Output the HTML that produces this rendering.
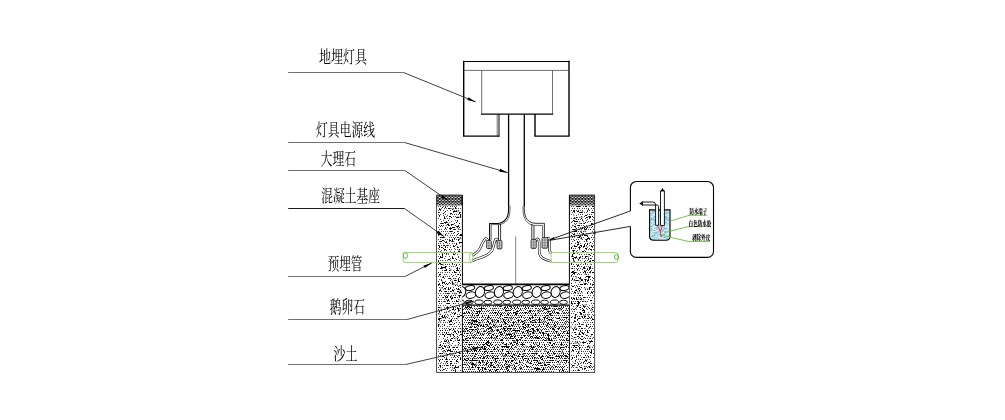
<!DOCTYPE html><html><head><meta charset="utf-8"><title>地埋灯具安装示意图</title>
<style>html,body{margin:0;padding:0;background:#fff;}body{width:1005px;height:420px;overflow:hidden;font-family:"Liberation Serif","Noto Serif CJK SC",serif;}svg{display:block;will-change:transform;transform:translateZ(0)}</style></head><body>
<svg width="1005" height="420" viewBox="0 0 1005 420">
<rect width="1005" height="420" fill="#fff"/>
<g id="walls">
<path d="M438 206.5h1M440 206.5h1M443 206.5h1M445 206.5h1M447 206.5h1M450 206.5h1M452 206.5h1M454 206.5h1M456 206.5h1M439 208.5h1M441 208.5h1M444 208.5h1M446 208.5h1M448 208.5h1M450 208.5h1M453 208.5h1M456 208.5h1M458 208.5h1M460 208.5h1M438 210.5h1M440 210.5h1M443 210.5h1M447 210.5h1M450 210.5h1M454 210.5h1M456 210.5h1M458 210.5h1M439 212.5h1M444 212.5h1M453 212.5h1M460 212.5h1M438 214.5h1M440 214.5h1M443 215.5h1M445 214.5h1M447 215.5h1M450 214.5h1M452 214.5h1M454 214.5h1M456 214.5h1M458 214.5h1M439 216.5h1M444 216.5h1M446 216.5h1M453 216.5h1M455 216.5h1M460 217.5h1M438 218.5h1M440 219.5h1M445 218.5h1M447 218.5h1M449 218.5h1M441 221.5h1M443 220.5h1M446 221.5h1M451 221.5h1M455 220.5h1M457 221.5h1M440 223.5h1M443 223.5h1M445 223.5h1M447 222.5h1M454 223.5h1M456 222.5h1M459 223.5h1M439 225.5h1M441 225.5h1M443 225.5h1M446 225.5h1M449 225.5h1M451 225.5h1M453 224.5h1M455 225.5h1M458 225.5h1M438 227.5h1M440 226.5h1M442 226.5h1M445 227.5h1M447 227.5h1M450 227.5h1M452 227.5h1M454 227.5h1M457 227.5h1M459 227.5h1M439 229.5h1M441 229.5h1M444 229.5h1M446 229.5h1M450 229.5h1M453 229.5h1M455 229.5h1M458 229.5h1M460 229.5h1M438 231.5h1M441 231.5h1M443 231.5h1M445 231.5h1M447 231.5h1M449 231.5h1M452 231.5h1M457 231.5h1M458 231.5h1M439 233.5h1M446 233.5h1M448 233.5h1M451 233.5h1M453 233.5h1M458 233.5h1M438 235.5h1M442 235.5h1M445 235.5h1M447 235.5h1M450 235.5h1M452 235.5h1M454 235.5h1M456 235.5h1M459 235.5h1M441 237.5h1M444 237.5h1M449 237.5h1M451 237.5h1M453 237.5h1M455 237.5h1M458 237.5h1M460 237.5h1M438 239.5h1M440 239.5h1M445 239.5h1M447 239.5h1M449 239.5h1M452 239.5h1M454 239.5h1M456 239.5h1M459 239.5h1M439 241.5h1M444 241.5h1M446 241.5h1M449 241.5h1M451 241.5h1M453 241.5h1M438 243.5h1M440 243.5h1M443 243.5h1M447 243.5h1M449 243.5h1M452 243.5h1M454 243.5h1M456 243.5h1M459 243.5h1M439 245.5h1M441 245.5h1M444 245.5h1M446 245.5h1M448 245.5h1M450 245.5h1M453 245.5h1M455 245.5h1M457 246.5h1M460 246.5h1M438 248.5h1M442 247.5h1M447 247.5h1M450 247.5h1M454 248.5h1M457 247.5h1M458 247.5h1M439 249.5h1M441 250.5h1M444 250.5h1M446 250.5h1M451 249.5h1M455 249.5h1M457 249.5h1M438 251.5h1M440 251.5h1M443 252.5h1M447 252.5h1M450 251.5h1M452 252.5h1M454 251.5h1M459 251.5h1M439 254.5h1M442 253.5h1M444 253.5h1M446 254.5h1M448 254.5h1M453 253.5h1M455 253.5h1M457 254.5h1M438 256.5h1M440 256.5h1M442 256.5h1M445 256.5h1M449 256.5h1M452 256.5h1M458 256.5h1M442 257.5h1M444 258.5h1M450 258.5h1M453 258.5h1M455 258.5h1M458 257.5h1M460 258.5h1M438 260.5h1M440 260.5h1M442 260.5h1M445 260.5h1M447 260.5h1M450 260.5h1M454 260.5h1M459 260.5h1M439 262.5h1M442 262.5h1M443 262.5h1M446 262.5h1M448 262.5h1M451 262.5h1M455 262.5h1M458 262.5h1M460 262.5h1M438 264.5h1M440 264.5h1M442 264.5h1M445 264.5h1M447 264.5h1M449 264.5h1M452 264.5h1M454 264.5h1M456 264.5h1M459 264.5h1M441 266.5h1M446 266.5h1M449 266.5h1M451 266.5h1M453 266.5h1M455 266.5h1M460 266.5h1M438 268.5h1M440 268.5h1M442 268.5h1M445 268.5h1M449 268.5h1M456 268.5h1M459 268.5h1M442 270.5h1M444 270.5h1M446 270.5h1M449 270.5h1M450 270.5h1M453 270.5h1M457 270.5h1M460 270.5h1M438 272.5h1M440 272.5h1M442 272.5h1M445 272.5h1M447 272.5h1M449 272.5h1M452 272.5h1M456 272.5h1M459 272.5h1M439 275.5h1M444 274.5h1M446 274.5h1M451 274.5h1M453 275.5h1M455 274.5h1M457 274.5h1M460 274.5h1M438 276.5h1M440 276.5h1M442 277.5h1M445 276.5h1M447 276.5h1M449 276.5h1M452 276.5h1M456 276.5h1M459 277.5h1M439 279.5h1M441 279.5h1M444 278.5h1M448 278.5h1M451 279.5h1M453 278.5h1M455 278.5h1M458 278.5h1M460 279.5h1M438 281.5h1M442 281.5h1M445 281.5h1M450 280.5h1M452 281.5h1M454 280.5h1M456 280.5h1M459 281.5h1M439 283.5h1M442 282.5h1M444 283.5h1M446 283.5h1M448 283.5h1M450 283.5h1M453 283.5h1M455 282.5h1M457 282.5h1M460 283.5h1M438 285.5h1M440 285.5h1M442 285.5h1M445 284.5h1M452 284.5h1M457 285.5h1M459 285.5h1M439 287.5h1M442 287.5h1M446 287.5h1M448 287.5h1M450 287.5h1M453 287.5h1M458 286.5h1M460 287.5h1M440 289.5h1M443 289.5h1M445 289.5h1M449 289.5h1M452 289.5h1M454 289.5h1M457 289.5h1M459 289.5h1M439 291.5h1M441 291.5h1M444 291.5h1M446 291.5h1M448 291.5h1M451 291.5h1M453 291.5h1M457 291.5h1M460 291.5h1M438 293.5h1M440 293.5h1M443 293.5h1M445 293.5h1M447 293.5h1M449 293.5h1M452 293.5h1M454 293.5h1M456 293.5h1M459 293.5h1M439 295.5h1M441 295.5h1M444 295.5h1M446 295.5h1M448 295.5h1M451 295.5h1M453 295.5h1M455 295.5h1M458 295.5h1M460 295.5h1M438 297.5h1M442 297.5h1M445 297.5h1M447 297.5h1M452 297.5h1M457 297.5h1M459 297.5h1M439 299.5h1M441 299.5h1M444 299.5h1M446 299.5h1M448 299.5h1M451 299.5h1M458 299.5h1M438 301.5h1M441 301.5h1M443 301.5h1M445 301.5h1M447 301.5h1M449 301.5h1M452 301.5h1M454 301.5h1M458 301.5h1M439 303.5h1M441 303.5h1M446 303.5h1M448 303.5h1M453 303.5h1M455 303.5h1M458 303.5h1M438 305.5h1M440 305.5h1M443 305.5h1M445 305.5h1M447 306.5h1M450 305.5h1M452 306.5h1M454 306.5h1M456 305.5h1M459 305.5h1M439 307.5h1M444 307.5h1M446 307.5h1M448 308.5h1M450 307.5h1M453 307.5h1M455 307.5h1M457 307.5h1M460 308.5h1M438 309.5h1M441 310.5h1M443 309.5h1M445 309.5h1M447 309.5h1M450 310.5h1M452 309.5h1M454 310.5h1M459 310.5h1M439 312.5h1M444 312.5h1M446 312.5h1M448 311.5h1M451 312.5h1M453 312.5h1M455 312.5h1M458 311.5h1M460 312.5h1M438 313.5h1M440 314.5h1M445 314.5h1M447 314.5h1M450 314.5h1M452 313.5h1M454 314.5h1M457 314.5h1M459 314.5h1M439 316.5h1M441 316.5h1M444 316.5h1M446 316.5h1M448 315.5h1M451 316.5h1M453 316.5h1M458 316.5h1M438 318.5h1M441 318.5h1M445 318.5h1M447 317.5h1M449 318.5h1M452 318.5h1M454 318.5h1M439 320.5h1M441 320.5h1M443 320.5h1M448 320.5h1M450 320.5h1M453 320.5h1M455 320.5h1M458 320.5h1M438 322.5h1M440 322.5h1M443 322.5h1M445 322.5h1M447 322.5h1M449 322.5h1M452 322.5h1M456 322.5h1M439 324.5h1M442 324.5h1M444 324.5h1M449 324.5h1M451 324.5h1M453 324.5h1M458 324.5h1M460 324.5h1M438 326.5h1M440 326.5h1M442 326.5h1M447 326.5h1M449 326.5h1M452 326.5h1M454 326.5h1M456 326.5h1M459 326.5h1M439 328.5h1M442 328.5h1M444 328.5h1M446 328.5h1M448 328.5h1M451 328.5h1M453 328.5h1M455 328.5h1M458 328.5h1M460 328.5h1M438 330.5h1M440 330.5h1M445 330.5h1M447 330.5h1M449 330.5h1M452 330.5h1M454 330.5h1M457 330.5h1M439 332.5h1M442 332.5h1M444 332.5h1M448 332.5h1M451 333.5h1M453 332.5h1M455 332.5h1M460 332.5h1M438 334.5h1M440 334.5h1M443 334.5h1M445 334.5h1M447 334.5h1M450 335.5h1M452 334.5h1M457 334.5h1M459 335.5h1M439 336.5h1M444 336.5h1M450 336.5h1M453 337.5h1M458 337.5h1M438 339.5h1M443 338.5h1M445 339.5h1M447 339.5h1M450 339.5h1M452 338.5h1M454 338.5h1M457 339.5h1M459 339.5h1M441 341.5h1M444 340.5h1M446 341.5h1M448 340.5h1M451 340.5h1M453 341.5h1M455 340.5h1M457 340.5h1M440 342.5h1M443 343.5h1M445 343.5h1M447 342.5h1M449 342.5h1M452 343.5h1M459 343.5h1M439 345.5h1M442 345.5h1M444 345.5h1M446 345.5h1M448 345.5h1M451 345.5h1M455 345.5h1M458 344.5h1M460 345.5h1M438 347.5h1M440 347.5h1M442 347.5h1M445 347.5h1M447 347.5h1M449 347.5h1M452 347.5h1M456 347.5h1M441 349.5h1M446 349.5h1M448 349.5h1M450 349.5h1M453 349.5h1M455 349.5h1M458 349.5h1M438 351.5h1M442 351.5h1M445 351.5h1M447 351.5h1M452 351.5h1M454 351.5h1M459 351.5h1M439 353.5h1M441 353.5h1M446 353.5h1M449 353.5h1M450 353.5h1M453 353.5h1M455 353.5h1M460 353.5h1M438 355.5h1M440 355.5h1M447 355.5h1M450 355.5h1M452 355.5h1M454 355.5h1M456 355.5h1M458 355.5h1M444 357.5h1M446 357.5h1M451 357.5h1M453 357.5h1M455 357.5h1M458 357.5h1M460 357.5h1M438 359.5h1M440 359.5h1M445 359.5h1M447 359.5h1M449 359.5h1M452 359.5h1M454 359.5h1M439 361.5h1M441 362.5h1M444 361.5h1M446 362.5h1M458 362.5h1M438 363.5h1M440 363.5h1M443 363.5h1M445 363.5h1M450 364.5h1M454 363.5h1M456 363.5h1M439 365.5h1M442 365.5h1M444 365.5h1M446 365.5h1M448 365.5h1M450 365.5h1M453 365.5h1M455 365.5h1M460 365.5h1M438 367.5h1M440 367.5h1M442 367.5h1M445 368.5h1M447 368.5h1M450 367.5h1M452 367.5h1M454 367.5h1M458 367.5h1M439 369.5h1M442 370.5h1M444 369.5h1M446 370.5h1M451 370.5h1M453 370.5h1M455 369.5h1M460 370.5h1" stroke="#000" stroke-width="1" shape-rendering="crispEdges" fill="none" opacity="0.7"/><path d="M453 307.5h1M453 308.5h1M456 244.5h1M446 365.5h2M450 321.5h2M447 296.5h1M450 340.5h2M450 288.5h1M453 303.5h1M443 343.5h1M442 317.5h2M456 265.5h1M448 288.5h1M448 289.5h1M457 268.5h1M457 269.5h1M444 315.5h1M444 316.5h1M438 212.5h1M456 333.5h1M455 285.5h1M451 338.5h2M459 316.5h1M449 216.5h2M449 321.5h1M449 322.5h1M459 223.5h1M441 310.5h1M450 349.5h1M450 350.5h1M442 254.5h1M442 255.5h1M453 308.5h1M457 356.5h1M454 229.5h1M448 299.5h1M448 300.5h1M447 337.5h1M458 281.5h2M454 313.5h2M454 280.5h2M444 335.5h1M444 336.5h1M451 252.5h1M456 360.5h1M456 367.5h2M439 311.5h1M438 284.5h2M455 207.5h1M455 208.5h1M450 231.5h2M459 213.5h1M453 347.5h2M458 342.5h1M442 353.5h1M457 237.5h1M454 336.5h1M441 225.5h1M454 331.5h2M457 316.5h2M439 209.5h2M456 288.5h1M445 296.5h1M439 274.5h2M456 222.5h1M452 365.5h1M439 262.5h1M439 263.5h1M456 217.5h1M457 267.5h1M439 246.5h1M439 247.5h1M443 286.5h1M452 283.5h1M446 332.5h1M446 333.5h1M440 268.5h2M459 355.5h1M447 308.5h1M447 309.5h1M453 211.5h2M445 228.5h1M449 303.5h1M447 307.5h2M441 291.5h1M450 291.5h1M440 237.5h1M449 347.5h1M444 325.5h1M445 317.5h1M459 212.5h1M442 267.5h2M440 256.5h1M442 348.5h1M445 246.5h1M444 309.5h1M456 259.5h1M453 335.5h1M452 239.5h1M452 240.5h1M446 358.5h1M446 359.5h1M456 300.5h1M450 361.5h1M442 237.5h2M440 344.5h1M440 345.5h1M450 213.5h2M456 243.5h1M450 228.5h2M445 288.5h1M441 223.5h2M449 334.5h2M444 222.5h2M440 263.5h1M460 308.5h1M450 324.5h2M458 239.5h1M458 240.5h1M443 213.5h1M459 295.5h1M459 296.5h1M438 324.5h1M450 296.5h1M450 297.5h1M441 252.5h1M446 361.5h2M460 216.5h1M457 247.5h1M447 245.5h1M439 347.5h1M458 251.5h2M445 351.5h1M454 271.5h1M454 272.5h1M459 353.5h1M438 234.5h2M458 279.5h1M458 280.5h1M456 361.5h2M445 234.5h1M448 259.5h2M449 228.5h1M450 363.5h2M446 340.5h1M451 319.5h1M451 320.5h1M460 334.5h2M458 366.5h1M439 258.5h1M454 238.5h1M444 217.5h1M444 218.5h1M455 272.5h1M443 369.5h1M446 269.5h1M446 270.5h1M443 297.5h1M440 257.5h2M442 240.5h2M453 329.5h1M445 207.5h1M452 240.5h1M452 241.5h1M449 282.5h1M460 242.5h2M445 291.5h2M441 346.5h1M443 245.5h2M452 309.5h2M441 280.5h1M453 258.5h1M446 283.5h1M460 285.5h1M441 247.5h1M452 351.5h1M443 348.5h1M438 325.5h1M438 326.5h1M453 227.5h2M448 350.5h1M458 331.5h1M458 332.5h1M453 254.5h2M448 208.5h1M440 370.5h1M457 270.5h2M440 241.5h2M438 307.5h2M447 300.5h1M458 340.5h2M459 249.5h1M447 363.5h1M443 297.5h1M449 240.5h2M449 270.5h1M439 233.5h2M458 309.5h1M458 310.5h1M444 332.5h1M443 282.5h2M458 226.5h1M445 247.5h1M458 308.5h1M439 318.5h1M444 301.5h1M457 336.5h1M447 224.5h2M454 313.5h1M454 314.5h1M440 318.5h1M443 248.5h1M438 319.5h2M459 295.5h2M453 227.5h1M454 323.5h1M455 366.5h1M455 367.5h1M450 361.5h2M439 290.5h2M447 350.5h2M449 329.5h2M442 282.5h1M442 283.5h1M454 368.5h1M444 262.5h2M452 227.5h1M456 301.5h2M451 298.5h1M456 318.5h1M441 264.5h1M444 346.5h2M445 270.5h2M444 341.5h2M460 331.5h1M452 263.5h1M460 234.5h2M456 351.5h1M451 224.5h2M442 334.5h2M460 235.5h2M454 232.5h1M459 306.5h1M444 350.5h1M440 241.5h1M457 220.5h1M439 301.5h1M460 358.5h1M460 359.5h1M452 282.5h1M442 315.5h1M442 316.5h1M440 365.5h1M440 366.5h1M444 350.5h1M449 249.5h1M448 208.5h2M441 267.5h1M454 297.5h2M439 360.5h1M449 346.5h1M457 234.5h1M459 268.5h1M444 320.5h1M456 318.5h1M438 330.5h1M446 253.5h1M447 303.5h2M456 270.5h1M460 274.5h1M460 275.5h1M438 212.5h1M442 330.5h1M439 215.5h1M457 359.5h1M453 246.5h2M452 306.5h1M457 338.5h1M448 341.5h1M442 356.5h2M444 249.5h2M452 290.5h2M450 296.5h1M448 354.5h1M445 211.5h1M457 217.5h2M459 242.5h1M446 222.5h1M446 297.5h2M454 355.5h1M454 356.5h1M460 214.5h1M460 215.5h1M441 257.5h2M458 352.5h2M449 278.5h2M445 242.5h2M447 293.5h2M454 368.5h1M455 309.5h1M460 292.5h2M453 334.5h1M445 266.5h1M445 267.5h1M442 240.5h1M459 322.5h1M450 351.5h2M443 356.5h1M447 284.5h1M456 347.5h2M448 224.5h1M448 225.5h1M456 226.5h2M447 354.5h1M452 297.5h1M452 298.5h1M460 315.5h2M440 330.5h1M443 276.5h1M443 277.5h1M455 211.5h2M458 274.5h1M438 261.5h1M452 257.5h1M452 258.5h1M447 334.5h2M444 267.5h2M442 359.5h1M440 353.5h1M442 207.5h1M455 370.5h1M455 371.5h1M458 288.5h1M458 289.5h1M444 288.5h1M438 330.5h1M459 292.5h1M451 217.5h1M457 291.5h2M457 308.5h1M452 209.5h1M448 350.5h2M448 220.5h1M460 290.5h1M438 245.5h1" stroke="#000" stroke-width="1" shape-rendering="crispEdges" fill="none"/><path d="M449.3 343.6l0.9 1.8M445.1 317.3l-1.6 0.7M459.3 300.1l1.8 1.6M455.6 284.2l2.5 0.2M452.0 296.0l-1.4 1.9M445.5 292.7l1.2 1.4M449.9 222.3l-2.4 1.7M440.8 309.0l0.9 2.8M458.3 308.3l2.1 0.9M442.0 333.3l1.7 1.8M453.9 353.8l-2.6 1.1M454.8 292.5l1.2 2.3M447.3 346.8l2.2 1.8M457.5 269.7l2.1 1.7M438.1 314.0l2.7 0.1M457.8 316.4l0.8 1.6M445.8 354.5l0.9 2.3M456.6 211.0l2.6 0.2M442.9 264.0l1.1 1.8M443.7 350.0l0.0 3.0M455.1 284.1l-2.6 0.5M458.7 228.3l1.0 1.3M437.6 348.8l1.4 1.4M451.0 362.6l1.2 1.0M454.9 345.4l-1.1 1.2M454.7 277.9l0.3 1.7M458.3 318.2l-1.4 1.0M457.8 227.8l1.3 1.8M445.3 329.0l0.2 2.1M446.7 311.1l-1.0 1.8M445.0 352.5l-0.5 1.7M451.4 208.5l2.2 1.0M450.3 320.3l-1.0 1.2M457.3 216.6l2.8 1.0M459.0 292.0l1.8 0.0M449.5 309.7l-0.4 3.0M449.3 343.4l-1.6 0.2M459.0 345.7l-1.8 0.2M439.1 321.2l1.9 0.1M459.0 238.2l2.7 0.4M458.6 249.7l0.8 1.3M447.6 252.2l1.1 1.8M459.6 328.0l1.4 1.6M449.5 268.7l2.3 1.2M457.1 337.6l-2.3 0.8M442.8 288.0l-2.5 0.1M453.7 368.2l-2.1 1.3M439.4 307.6l2.6 0.3M446.5 297.4l-1.2 1.8M452.3 280.6l-0.5 2.1" stroke="#000" stroke-width="0.6" fill="none" opacity="0.85"/>
<path d="M571 206.5h1M573 206.5h1M576 206.5h1M578 206.5h1M580 206.5h1M583 206.5h1M585 206.5h1M589 206.5h1M572 208.5h1M574 208.5h1M577 208.5h1M579 208.5h1M582 208.5h1M584 208.5h1M586 208.5h1M588 208.5h1M591 208.5h1M593 208.5h1M571 210.5h1M573 210.5h1M576 210.5h1M578 210.5h1M580 210.5h1M582 210.5h1M587 210.5h1M589 210.5h1M592 210.5h1M572 212.5h1M574 212.5h1M579 212.5h1M582 212.5h1M584 212.5h1M586 212.5h1M591 212.5h1M593 212.5h1M571 214.5h1M576 215.5h1M578 214.5h1M580 214.5h1M582 214.5h1M587 214.5h1M589 214.5h1M591 214.5h1M574 217.5h1M577 217.5h1M579 217.5h1M581 216.5h1M584 216.5h1M588 216.5h1M590 216.5h1M593 217.5h1M571 218.5h1M573 218.5h1M575 218.5h1M578 219.5h1M580 219.5h1M582 219.5h1M585 218.5h1M587 219.5h1M589 218.5h1M592 219.5h1M572 221.5h1M574 220.5h1M579 221.5h1M583 221.5h1M586 220.5h1M588 221.5h1M590 221.5h1M593 220.5h1M571 222.5h1M574 223.5h1M576 223.5h1M580 223.5h1M583 223.5h1M585 222.5h1M587 222.5h1M592 223.5h1M572 225.5h1M575 224.5h1M577 225.5h1M579 225.5h1M581 225.5h1M583 225.5h1M586 225.5h1M590 225.5h1M593 224.5h1M571 227.5h1M575 227.5h1M578 227.5h1M580 227.5h1M582 227.5h1M585 227.5h1M589 227.5h1M591 227.5h1M572 229.5h1M575 229.5h1M579 229.5h1M581 229.5h1M584 229.5h1M586 229.5h1M588 229.5h1M590 229.5h1M593 229.5h1M573 231.5h1M578 231.5h1M580 231.5h1M583 231.5h1M585 231.5h1M592 231.5h1M572 233.5h1M574 233.5h1M577 233.5h1M579 233.5h1M582 233.5h1M583 233.5h1M586 233.5h1M590 233.5h1M593 233.5h1M571 235.5h1M576 235.5h1M578 235.5h1M580 235.5h1M582 235.5h1M585 235.5h1M587 235.5h1M592 235.5h1M572 237.5h1M574 237.5h1M577 237.5h1M579 237.5h1M581 237.5h1M583 237.5h1M588 237.5h1M591 237.5h1M593 237.5h1M571 239.5h1M573 239.5h1M576 239.5h1M578 239.5h1M582 239.5h1M585 239.5h1M587 239.5h1M589 239.5h1M592 239.5h1M572 241.5h1M577 241.5h1M579 241.5h1M584 241.5h1M586 241.5h1M593 241.5h1M571 243.5h1M575 243.5h1M578 243.5h1M580 243.5h1M585 243.5h1M587 243.5h1M589 243.5h1M592 243.5h1M572 246.5h1M577 245.5h1M579 246.5h1M584 245.5h1M586 245.5h1M589 245.5h1M591 245.5h1M593 245.5h1M573 248.5h1M575 248.5h1M578 247.5h1M580 247.5h1M583 247.5h1M587 247.5h1M589 248.5h1M592 247.5h1M572 250.5h1M577 250.5h1M579 249.5h1M584 250.5h1M586 249.5h1M588 249.5h1M591 250.5h1M593 249.5h1M573 252.5h1M576 251.5h1M578 252.5h1M580 252.5h1M582 251.5h1M585 251.5h1M587 252.5h1M572 254.5h1M577 253.5h1M579 254.5h1M581 254.5h1M584 254.5h1M586 254.5h1M588 254.5h1M591 253.5h1M593 254.5h1M571 256.5h1M573 256.5h1M576 256.5h1M580 256.5h1M582 256.5h1M585 256.5h1M587 256.5h1M592 256.5h1M572 258.5h1M575 258.5h1M577 258.5h1M579 258.5h1M582 258.5h1M584 258.5h1M586 258.5h1M588 258.5h1M591 258.5h1M573 260.5h1M578 260.5h1M580 260.5h1M585 260.5h1M587 260.5h1M590 260.5h1M592 260.5h1M572 262.5h1M575 262.5h1M577 262.5h1M579 262.5h1M581 262.5h1M584 262.5h1M586 262.5h1M588 262.5h1M593 262.5h1M571 264.5h1M573 264.5h1M576 264.5h1M578 264.5h1M580 264.5h1M583 264.5h1M585 264.5h1M587 264.5h1M591 264.5h1M572 266.5h1M577 266.5h1M579 266.5h1M581 266.5h1M584 266.5h1M586 266.5h1M588 266.5h1M590 266.5h1M571 268.5h1M574 268.5h1M576 268.5h1M578 268.5h1M580 268.5h1M583 268.5h1M585 268.5h1M587 268.5h1M590 268.5h1M592 268.5h1M574 270.5h1M577 270.5h1M579 270.5h1M584 270.5h1M586 270.5h1M588 270.5h1M591 270.5h1M573 272.5h1M576 272.5h1M578 273.5h1M580 272.5h1M583 272.5h1M585 273.5h1M587 272.5h1M589 272.5h1M592 272.5h1M572 274.5h1M574 274.5h1M577 274.5h1M579 274.5h1M581 274.5h1M586 274.5h1M588 274.5h1M571 276.5h1M573 276.5h1M575 276.5h1M578 277.5h1M580 277.5h1M585 277.5h1M587 276.5h1M590 276.5h1M592 277.5h1M572 278.5h1M574 279.5h1M579 278.5h1M582 279.5h1M584 279.5h1M586 279.5h1M588 278.5h1M590 279.5h1M593 278.5h1M571 280.5h1M574 280.5h1M575 280.5h1M578 280.5h1M580 281.5h1M585 281.5h1M587 281.5h1M592 280.5h1M575 282.5h1M579 282.5h1M584 283.5h1M586 283.5h1M588 282.5h1M590 283.5h1M593 282.5h1M571 285.5h1M574 285.5h1M576 285.5h1M578 284.5h1M587 284.5h1M590 284.5h1M592 285.5h1M572 286.5h1M575 287.5h1M577 286.5h1M579 286.5h1M581 287.5h1M584 287.5h1M591 287.5h1M593 287.5h1M571 289.5h1M576 289.5h1M578 289.5h1M580 289.5h1M585 289.5h1M587 289.5h1M589 289.5h1M592 289.5h1M572 291.5h1M574 291.5h1M577 291.5h1M579 291.5h1M581 291.5h1M588 291.5h1M591 291.5h1M593 291.5h1M571 293.5h1M573 293.5h1M575 293.5h1M578 293.5h1M580 293.5h1M587 293.5h1M590 293.5h1M592 293.5h1M574 295.5h1M577 295.5h1M579 295.5h1M582 295.5h1M588 295.5h1M590 295.5h1M593 295.5h1M571 297.5h1M573 297.5h1M576 297.5h1M578 297.5h1M580 297.5h1M583 297.5h1M585 297.5h1M587 297.5h1M589 297.5h1M592 297.5h1M572 299.5h1M574 299.5h1M577 299.5h1M581 299.5h1M583 299.5h1M588 299.5h1M573 301.5h1M575 301.5h1M578 301.5h1M580 301.5h1M583 301.5h1M585 301.5h1M587 301.5h1M572 304.5h1M575 303.5h1M577 303.5h1M579 303.5h1M582 304.5h1M586 304.5h1M591 303.5h1M593 303.5h1M571 305.5h1M573 306.5h1M576 305.5h1M578 305.5h1M580 305.5h1M583 305.5h1M585 306.5h1M587 306.5h1M589 305.5h1M592 305.5h1M572 308.5h1M575 308.5h1M576 307.5h1M579 307.5h1M584 307.5h1M586 308.5h1M588 307.5h1M591 308.5h1M593 307.5h1M571 309.5h1M573 309.5h1M576 309.5h1M580 309.5h1M583 309.5h1M587 309.5h1M590 310.5h1M592 309.5h1M572 311.5h1M574 311.5h1M577 312.5h1M579 312.5h1M584 311.5h1M588 312.5h1M591 312.5h1M593 311.5h1M571 313.5h1M573 313.5h1M576 314.5h1M580 314.5h1M583 314.5h1M585 314.5h1M587 314.5h1M589 314.5h1M592 314.5h1M572 316.5h1M575 316.5h1M577 316.5h1M579 316.5h1M581 316.5h1M584 316.5h1M588 316.5h1M591 316.5h1M593 315.5h1M574 318.5h1M575 318.5h1M578 318.5h1M580 318.5h1M583 318.5h1M585 318.5h1M587 318.5h1M590 318.5h1M592 318.5h1M574 320.5h1M577 320.5h1M584 320.5h1M586 320.5h1M588 320.5h1M591 320.5h1M571 322.5h1M573 322.5h1M578 322.5h1M583 322.5h1M585 322.5h1M587 322.5h1M590 322.5h1M592 322.5h1M572 324.5h1M575 324.5h1M577 324.5h1M579 324.5h1M581 324.5h1M583 324.5h1M586 324.5h1M588 324.5h1M590 324.5h1M593 324.5h1M578 326.5h1M587 326.5h1M592 326.5h1M572 328.5h1M574 328.5h1M576 328.5h1M579 328.5h1M581 328.5h1M584 328.5h1M588 328.5h1M591 328.5h1M593 328.5h1M573 330.5h1M578 330.5h1M580 330.5h1M582 330.5h1M585 330.5h1M587 330.5h1M589 330.5h1M572 332.5h1M574 332.5h1M579 332.5h1M581 332.5h1M584 332.5h1M588 332.5h1M593 332.5h1M571 335.5h1M576 334.5h1M578 334.5h1M580 334.5h1M583 334.5h1M585 334.5h1M587 335.5h1M592 334.5h1M572 336.5h1M575 337.5h1M577 336.5h1M579 337.5h1M581 336.5h1M584 337.5h1M588 336.5h1M590 336.5h1M593 337.5h1M571 338.5h1M573 339.5h1M575 339.5h1M578 338.5h1M583 338.5h1M585 338.5h1M587 338.5h1M589 338.5h1M592 338.5h1M572 341.5h1M575 341.5h1M577 341.5h1M579 341.5h1M583 341.5h1M586 341.5h1M588 340.5h1M591 340.5h1M571 343.5h1M573 343.5h1M578 343.5h1M580 342.5h1M583 343.5h1M587 343.5h1M590 342.5h1M572 345.5h1M575 345.5h1M577 345.5h1M579 345.5h1M581 345.5h1M583 345.5h1M588 345.5h1M593 345.5h1M571 347.5h1M573 347.5h1M575 347.5h1M578 346.5h1M580 347.5h1M582 347.5h1M585 347.5h1M587 347.5h1M589 347.5h1M592 347.5h1M572 349.5h1M575 349.5h1M577 349.5h1M579 349.5h1M581 349.5h1M584 349.5h1M586 349.5h1M588 349.5h1M591 349.5h1M593 349.5h1M571 351.5h1M573 351.5h1M576 351.5h1M578 351.5h1M583 351.5h1M585 351.5h1M587 351.5h1M589 351.5h1M577 353.5h1M579 353.5h1M581 353.5h1M584 353.5h1M586 353.5h1M588 353.5h1M591 353.5h1M593 353.5h1M571 355.5h1M573 355.5h1M576 355.5h1M578 355.5h1M580 355.5h1M585 355.5h1M587 355.5h1M590 355.5h1M574 357.5h1M576 357.5h1M581 357.5h1M584 357.5h1M586 357.5h1M588 357.5h1M590 357.5h1M593 357.5h1M571 359.5h1M576 359.5h1M578 359.5h1M580 359.5h1M582 359.5h1M585 359.5h1M587 359.5h1M589 359.5h1M575 361.5h1M577 362.5h1M579 361.5h1M581 362.5h1M584 361.5h1M586 361.5h1M588 362.5h1M590 361.5h1M571 364.5h1M574 363.5h1M575 363.5h1M578 363.5h1M580 363.5h1M583 363.5h1M585 363.5h1M587 363.5h1M590 363.5h1M572 366.5h1M574 365.5h1M577 365.5h1M579 366.5h1M581 365.5h1M584 366.5h1M586 366.5h1M588 366.5h1M591 366.5h1M593 366.5h1M571 367.5h1M573 367.5h1M576 367.5h1M580 367.5h1M582 368.5h1M585 368.5h1M587 367.5h1M590 367.5h1M592 367.5h1M575 370.5h1M577 370.5h1M579 370.5h1M582 369.5h1M584 369.5h1M586 370.5h1M588 370.5h1M591 369.5h1M593 369.5h1" stroke="#000" stroke-width="1" shape-rendering="crispEdges" fill="none" opacity="0.7"/><path d="M574 337.5h1M576 356.5h1M574 246.5h2M572 278.5h1M581 218.5h1M577 336.5h1M578 259.5h1M592 322.5h1M585 206.5h2M592 307.5h1M584 228.5h1M580 299.5h1M579 290.5h1M583 312.5h2M584 223.5h1M573 220.5h1M579 366.5h1M587 331.5h1M574 332.5h2M585 280.5h1M589 327.5h1M573 329.5h1M592 212.5h2M589 217.5h2M573 234.5h2M578 219.5h1M579 295.5h1M582 310.5h2M579 247.5h1M579 248.5h1M585 251.5h1M573 345.5h2M578 369.5h1M578 370.5h1M592 272.5h2M574 303.5h1M578 206.5h1M582 227.5h1M582 228.5h1M589 287.5h2M588 356.5h1M591 350.5h1M580 338.5h1M581 238.5h1M587 349.5h2M578 364.5h1M587 238.5h1M584 316.5h2M576 217.5h1M579 236.5h2M585 301.5h1M578 336.5h1M588 280.5h1M572 271.5h1M592 260.5h2M582 284.5h1M573 298.5h2M577 265.5h1M577 266.5h1M584 271.5h2M571 275.5h1M581 298.5h1M584 361.5h1M592 284.5h2M578 293.5h1M574 253.5h1M582 256.5h1M586 217.5h2M581 313.5h1M581 314.5h1M585 279.5h1M581 245.5h1M581 246.5h1M576 246.5h1M572 268.5h1M576 219.5h1M577 244.5h2M582 336.5h1M579 318.5h1M590 271.5h1M590 272.5h1M583 305.5h1M571 301.5h1M581 291.5h1M572 365.5h2M577 211.5h2M589 362.5h1M574 257.5h2M578 265.5h1M589 288.5h1M589 289.5h1M590 229.5h1M574 266.5h1M580 312.5h1M580 313.5h1M571 264.5h1M583 267.5h2M584 268.5h1M578 302.5h2M587 346.5h2M579 326.5h2M586 325.5h1M586 326.5h1M572 303.5h1M590 365.5h1M590 326.5h1M583 246.5h2M574 272.5h2M585 229.5h1M577 206.5h1M573 253.5h1M584 311.5h1M580 295.5h1M576 231.5h1M586 235.5h1M588 259.5h1M583 297.5h2M590 363.5h2M579 278.5h2M590 300.5h2M582 342.5h2M575 290.5h2M574 292.5h1M571 298.5h1M571 247.5h1M571 248.5h1M577 342.5h1M583 272.5h1M585 248.5h2M582 220.5h1M578 288.5h2M592 216.5h1M586 256.5h1M573 250.5h2M579 334.5h1M590 249.5h2M581 280.5h2M575 329.5h2M574 240.5h1M580 257.5h1M590 352.5h2M592 319.5h2M581 351.5h1M582 332.5h1M576 221.5h2M574 226.5h2M572 357.5h1M572 358.5h1M587 243.5h1M573 251.5h1M573 252.5h1M587 211.5h1M578 318.5h1M585 342.5h1M576 257.5h1M591 292.5h2M575 292.5h1M573 211.5h2M574 218.5h1M580 277.5h1M573 258.5h1M573 259.5h1M585 360.5h2M579 347.5h1M579 348.5h1M572 279.5h1M573 347.5h1M590 242.5h1M588 324.5h1M585 256.5h1M585 257.5h1M578 277.5h1M587 269.5h1M580 307.5h1M574 261.5h1M582 324.5h1M587 330.5h1M582 308.5h1M582 333.5h2M592 309.5h1M575 314.5h1M575 315.5h1M586 335.5h1M577 269.5h1M574 273.5h1M591 237.5h1M583 357.5h2M577 286.5h1M571 283.5h1M575 347.5h2M589 366.5h1M589 367.5h1M576 280.5h2M574 317.5h2M584 317.5h1M574 245.5h1M587 244.5h1M591 317.5h1M575 231.5h1M589 254.5h1M589 343.5h1M591 334.5h1M574 210.5h1M574 211.5h1M577 319.5h1M591 351.5h1M584 261.5h1M584 262.5h1M580 367.5h2M578 352.5h1M582 301.5h1M573 370.5h1M580 245.5h1M574 221.5h2M572 256.5h1M573 271.5h1M573 273.5h1M579 206.5h1M585 263.5h1M584 235.5h2M571 235.5h1M574 321.5h2M571 263.5h1M572 286.5h2M584 342.5h1M580 312.5h1M587 318.5h2M589 341.5h2M586 276.5h1M584 310.5h1M572 349.5h1M589 268.5h1M589 269.5h1M587 236.5h1M582 316.5h1M582 317.5h1M571 272.5h2M591 246.5h2M586 239.5h1M586 240.5h1M584 368.5h2M577 242.5h2M592 206.5h2M571 303.5h1M581 339.5h2M581 223.5h1M592 226.5h1M580 284.5h2M576 235.5h1M591 223.5h1M591 224.5h1M580 212.5h2M582 251.5h2M591 334.5h2M574 236.5h1M580 330.5h1M580 331.5h1M583 233.5h1M578 303.5h1M578 304.5h1M581 328.5h2M583 306.5h1M588 277.5h2M589 216.5h2M579 257.5h1M583 362.5h1M575 360.5h1M584 244.5h1M584 245.5h1M578 237.5h2M584 226.5h1M585 283.5h1M585 284.5h1M585 222.5h1M574 309.5h1M571 302.5h1M586 228.5h1M575 334.5h1M573 229.5h2M590 338.5h1M580 312.5h1M589 267.5h1M572 350.5h2M574 345.5h1M574 346.5h1M584 284.5h2M574 231.5h1M589 261.5h2M579 333.5h1M589 317.5h1M585 355.5h1M588 276.5h2M587 227.5h1M587 332.5h1M582 235.5h1M587 280.5h2M582 269.5h1M587 276.5h2M590 267.5h1M590 268.5h1M585 271.5h1M585 272.5h1M590 258.5h1M588 238.5h2M588 209.5h1M576 298.5h1M590 255.5h1M576 230.5h1M574 253.5h1M591 341.5h2M572 254.5h1M572 255.5h1M583 306.5h2M577 301.5h2M588 279.5h1M589 308.5h1M577 305.5h1M577 306.5h1M587 292.5h1M587 293.5h1M585 215.5h2M578 225.5h2M576 298.5h1M576 299.5h1M579 323.5h1M580 359.5h1M576 345.5h2M576 228.5h1M589 341.5h1M581 232.5h1M575 347.5h1M581 279.5h1M579 258.5h1M571 317.5h1" stroke="#000" stroke-width="1" shape-rendering="crispEdges" fill="none"/><path d="M580.7 278.1l-1.1 2.5M572.5 360.8l0.6 1.8M583.5 281.6l0.6 2.4M572.4 279.4l1.2 1.0M583.1 211.2l-2.3 1.3M583.5 308.9l-0.8 2.7M581.1 230.0l0.9 2.7M580.6 262.6l1.4 0.8M592.1 334.7l-1.0 1.7M580.0 237.7l1.5 2.0M571.4 288.0l-0.0 1.6M576.0 327.7l-1.9 0.3M576.5 276.4l-0.2 2.2M580.7 298.8l-2.5 0.6M574.3 224.6l-1.7 1.8M586.0 240.3l2.0 1.5M574.6 260.6l-1.5 1.7M571.4 343.1l-1.3 0.9M580.3 217.0l2.8 0.3M586.8 288.5l1.8 0.5M573.5 214.2l0.6 1.9M584.3 274.1l2.8 0.5M570.6 212.1l-1.7 1.3M575.3 367.5l2.8 0.2M589.3 346.6l0.1 2.2M578.7 222.2l0.7 1.8M591.6 308.8l0.8 2.8M581.4 292.3l1.6 0.5M585.0 287.5l0.5 2.2M570.9 325.8l0.3 2.6M589.1 255.8l-0.7 2.0M583.6 315.4l2.2 0.0M590.2 263.5l0.2 1.6M584.3 304.8l1.9 0.3M575.6 341.2l0.9 2.7M588.1 314.0l0.6 2.8M584.4 301.0l2.3 1.2M577.1 353.7l1.9 0.3M585.1 230.2l-1.6 2.0M587.3 246.0l-1.7 0.5M576.2 326.0l-2.3 1.3M586.3 366.3l-1.8 1.6M573.5 337.8l-1.4 0.9M580.1 351.1l-1.7 0.3M580.3 344.2l-1.9 0.2M578.6 292.4l-1.3 0.9M573.1 343.2l2.8 0.0M585.5 328.3l0.8 1.4M578.8 358.3l-0.2 1.5M589.8 345.7l0.3 2.6" stroke="#000" stroke-width="0.6" fill="none" opacity="0.85"/>
<path d="M463 306.5h1M465 306.5h1M467 306.5h1M469 306.5h1M471 306.5h1M477 306.5h1M479 306.5h1M481 306.5h1M483 306.5h1M485 306.5h1M487 306.5h1M489 306.5h1M493 306.5h1M495 306.5h1M497 306.5h1M499 306.5h1M501 306.5h1M505 306.5h1M507 306.5h1M509 306.5h1M511 306.5h1M513 306.5h1M515 306.5h1M517 306.5h1M519 306.5h1M521 306.5h1M523 306.5h1M525 306.5h1M527 306.5h1M529 306.5h1M531 306.5h1M533 306.5h1M535 306.5h1M537 306.5h1M539 306.5h1M541 306.5h1M543 306.5h1M545 306.5h1M547 306.5h1M549 306.5h1M551 306.5h1M553 306.5h1M555 306.5h1M557 306.5h1M559 306.5h1M561 306.5h1M563 306.5h1M565 306.5h1M567 306.5h1M464 308.5h1M466 308.5h1M468 308.5h1M470 308.5h1M472 308.5h1M474 308.5h1M476 308.5h1M478 308.5h1M480 308.5h1M482 308.5h1M484 308.5h1M486 308.5h1M490 308.5h1M492 308.5h1M494 308.5h1M496 308.5h1M498 308.5h1M500 308.5h1M502 308.5h1M504 308.5h1M506 308.5h1M508 308.5h1M510 308.5h1M512 308.5h1M514 308.5h1M516 308.5h1M518 308.5h1M520 308.5h1M522 308.5h1M524 308.5h1M526 308.5h1M528 308.5h1M530 308.5h1M532 308.5h1M536 308.5h1M538 308.5h1M540 308.5h1M542 308.5h1M544 308.5h1M546 308.5h1M548 308.5h1M550 308.5h1M552 308.5h1M554 308.5h1M556 308.5h1M558 308.5h1M560 308.5h1M562 308.5h1M566 308.5h1M568 308.5h1M463 309.5h1M465 309.5h1M467 309.5h1M469 309.5h1M471 310.5h1M473 310.5h1M475 309.5h1M477 309.5h1M479 310.5h1M481 310.5h1M485 309.5h1M487 310.5h1M489 310.5h1M491 310.5h1M493 310.5h1M495 310.5h1M497 310.5h1M499 310.5h1M501 310.5h1M503 309.5h1M505 309.5h1M507 310.5h1M509 310.5h1M511 309.5h1M513 310.5h1M515 309.5h1M517 310.5h1M519 310.5h1M521 310.5h1M523 310.5h1M525 309.5h1M527 310.5h1M529 310.5h1M531 310.5h1M533 310.5h1M535 310.5h1M537 310.5h1M539 309.5h1M541 310.5h1M543 310.5h1M547 309.5h1M551 310.5h1M553 310.5h1M555 309.5h1M557 309.5h1M559 310.5h1M561 309.5h1M563 310.5h1M565 310.5h1M567 310.5h1M464 312.5h1M466 311.5h1M468 311.5h1M472 312.5h1M474 311.5h1M476 311.5h1M478 311.5h1M480 311.5h1M482 311.5h1M484 311.5h1M486 311.5h1M488 311.5h1M490 312.5h1M492 312.5h1M494 312.5h1M496 312.5h1M498 311.5h1M500 312.5h1M502 312.5h1M504 312.5h1M508 312.5h1M510 312.5h1M514 312.5h1M516 311.5h1M518 311.5h1M520 312.5h1M522 312.5h1M524 312.5h1M526 312.5h1M528 312.5h1M530 312.5h1M532 311.5h1M534 311.5h1M538 312.5h1M540 311.5h1M542 311.5h1M544 312.5h1M546 312.5h1M548 312.5h1M550 311.5h1M552 311.5h1M554 311.5h1M558 312.5h1M562 311.5h1M564 312.5h1M566 312.5h1M568 312.5h1M463 313.5h1M465 313.5h1M467 313.5h1M469 313.5h1M471 313.5h1M473 313.5h1M475 313.5h1M477 313.5h1M479 313.5h1M481 313.5h1M483 313.5h1M485 313.5h1M489 313.5h1M491 313.5h1M493 313.5h1M495 313.5h1M497 313.5h1M499 313.5h1M501 313.5h1M503 313.5h1M505 313.5h1M507 313.5h1M509 313.5h1M511 313.5h1M513 313.5h1M515 313.5h1M517 313.5h1M519 313.5h1M521 313.5h1M523 313.5h1M525 313.5h1M527 313.5h1M529 313.5h1M531 313.5h1M533 313.5h1M535 313.5h1M537 313.5h1M539 313.5h1M541 313.5h1M543 313.5h1M547 313.5h1M549 313.5h1M551 313.5h1M553 313.5h1M555 313.5h1M557 313.5h1M559 313.5h1M561 313.5h1M563 313.5h1M565 313.5h1M567 313.5h1M464 315.5h1M466 315.5h1M468 315.5h1M470 315.5h1M472 315.5h1M474 315.5h1M476 315.5h1M478 315.5h1M482 315.5h1M484 315.5h1M486 315.5h1M488 315.5h1M490 315.5h1M492 315.5h1M494 315.5h1M496 315.5h1M498 315.5h1M500 315.5h1M502 315.5h1M504 315.5h1M506 315.5h1M508 315.5h1M510 315.5h1M512 315.5h1M514 315.5h1M516 315.5h1M518 315.5h1M520 315.5h1M522 315.5h1M524 315.5h1M528 315.5h1M530 315.5h1M532 315.5h1M534 315.5h1M536 315.5h1M538 315.5h1M540 315.5h1M542 315.5h1M544 315.5h1M548 315.5h1M550 315.5h1M552 315.5h1M554 315.5h1M556 315.5h1M558 315.5h1M560 315.5h1M562 315.5h1M564 315.5h1M566 315.5h1M568 315.5h1M463 317.5h1M465 317.5h1M467 317.5h1M469 317.5h1M471 317.5h1M473 317.5h1M475 317.5h1M477 317.5h1M479 317.5h1M481 317.5h1M483 317.5h1M485 317.5h1M487 317.5h1M489 317.5h1M491 317.5h1M493 317.5h1M495 317.5h1M497 317.5h1M499 317.5h1M505 317.5h1M507 317.5h1M509 317.5h1M511 317.5h1M513 317.5h1M515 317.5h1M517 317.5h1M519 317.5h1M521 317.5h1M523 317.5h1M525 317.5h1M527 317.5h1M529 317.5h1M531 317.5h1M533 317.5h1M535 317.5h1M537 317.5h1M539 317.5h1M545 317.5h1M547 317.5h1M549 317.5h1M551 317.5h1M553 317.5h1M555 317.5h1M559 317.5h1M561 317.5h1M563 317.5h1M565 317.5h1M567 317.5h1M464 319.5h1M466 318.5h1M468 319.5h1M470 319.5h1M472 319.5h1M474 318.5h1M476 319.5h1M478 319.5h1M482 319.5h1M484 319.5h1M486 319.5h1M488 319.5h1M490 318.5h1M492 319.5h1M494 319.5h1M496 319.5h1M498 318.5h1M500 318.5h1M502 318.5h1M504 319.5h1M506 319.5h1M508 319.5h1M510 318.5h1M512 318.5h1M514 319.5h1M516 318.5h1M518 319.5h1M520 319.5h1M524 318.5h1M526 319.5h1M528 319.5h1M530 319.5h1M532 318.5h1M536 319.5h1M538 319.5h1M540 319.5h1M542 319.5h1M544 318.5h1M546 318.5h1M548 319.5h1M550 319.5h1M552 318.5h1M556 318.5h1M558 318.5h1M560 319.5h1M562 319.5h1M564 319.5h1M566 318.5h1M568 319.5h1M465 320.5h1M467 320.5h1M469 320.5h1M471 320.5h1M473 321.5h1M475 320.5h1M479 320.5h1M481 320.5h1M483 320.5h1M487 320.5h1M491 320.5h1M495 320.5h1M497 320.5h1M501 321.5h1M503 321.5h1M505 320.5h1M507 321.5h1M509 321.5h1M511 320.5h1M513 321.5h1M515 321.5h1M517 320.5h1M519 320.5h1M521 320.5h1M523 321.5h1M525 320.5h1M527 320.5h1M529 320.5h1M531 321.5h1M533 320.5h1M535 321.5h1M537 320.5h1M539 320.5h1M541 320.5h1M543 321.5h1M545 321.5h1M547 320.5h1M549 320.5h1M551 320.5h1M553 320.5h1M555 321.5h1M557 321.5h1M559 320.5h1M561 320.5h1M563 320.5h1M565 321.5h1M567 321.5h1M464 322.5h1M466 322.5h1M468 322.5h1M470 322.5h1M472 322.5h1M474 322.5h1M476 322.5h1M478 322.5h1M480 322.5h1M482 322.5h1M484 322.5h1M486 322.5h1M488 322.5h1M490 322.5h1M492 322.5h1M494 322.5h1M496 322.5h1M498 322.5h1M500 322.5h1M502 322.5h1M504 322.5h1M508 322.5h1M510 322.5h1M512 322.5h1M514 322.5h1M516 322.5h1M518 322.5h1M520 322.5h1M522 322.5h1M524 322.5h1M526 322.5h1M528 322.5h1M530 322.5h1M532 322.5h1M534 322.5h1M536 322.5h1M538 322.5h1M540 322.5h1M542 322.5h1M544 322.5h1M546 322.5h1M548 322.5h1M550 322.5h1M552 322.5h1M554 322.5h1M556 322.5h1M558 322.5h1M560 322.5h1M562 322.5h1M564 322.5h1M566 322.5h1M568 322.5h1M463 324.5h1M465 324.5h1M467 324.5h1M469 324.5h1M471 324.5h1M473 324.5h1M475 324.5h1M477 324.5h1M479 324.5h1M481 324.5h1M483 324.5h1M485 324.5h1M487 324.5h1M489 324.5h1M491 324.5h1M493 324.5h1M495 324.5h1M499 324.5h1M501 324.5h1M503 324.5h1M505 324.5h1M507 324.5h1M511 324.5h1M513 324.5h1M515 324.5h1M517 324.5h1M519 324.5h1M523 324.5h1M525 324.5h1M527 324.5h1M529 324.5h1M531 324.5h1M533 324.5h1M535 324.5h1M537 324.5h1M539 324.5h1M541 324.5h1M543 324.5h1M545 324.5h1M547 324.5h1M549 324.5h1M551 324.5h1M553 324.5h1M555 324.5h1M557 324.5h1M559 324.5h1M561 324.5h1M563 324.5h1M565 324.5h1M567 324.5h1M464 326.5h1M466 326.5h1M468 326.5h1M470 326.5h1M472 326.5h1M474 326.5h1M476 326.5h1M478 326.5h1M480 326.5h1M482 326.5h1M484 326.5h1M486 326.5h1M488 326.5h1M490 326.5h1M492 326.5h1M494 326.5h1M496 326.5h1M498 326.5h1M500 326.5h1M504 326.5h1M506 326.5h1M508 326.5h1M510 326.5h1M512 326.5h1M514 326.5h1M516 326.5h1M518 326.5h1M520 326.5h1M522 326.5h1M526 326.5h1M528 326.5h1M530 326.5h1M534 326.5h1M536 326.5h1M538 326.5h1M540 326.5h1M542 326.5h1M544 326.5h1M546 326.5h1M548 326.5h1M550 326.5h1M552 326.5h1M554 326.5h1M556 326.5h1M558 326.5h1M560 326.5h1M562 326.5h1M564 326.5h1M566 326.5h1M568 326.5h1M463 328.5h1M467 328.5h1M469 327.5h1M475 327.5h1M477 328.5h1M481 328.5h1M483 328.5h1M485 327.5h1M487 328.5h1M489 327.5h1M491 328.5h1M493 327.5h1M495 327.5h1M497 327.5h1M501 328.5h1M503 327.5h1M505 328.5h1M509 328.5h1M511 328.5h1M513 328.5h1M515 328.5h1M517 328.5h1M519 328.5h1M521 328.5h1M523 328.5h1M525 328.5h1M527 327.5h1M529 327.5h1M531 328.5h1M535 327.5h1M537 328.5h1M539 328.5h1M541 327.5h1M543 328.5h1M545 328.5h1M547 327.5h1M549 327.5h1M551 327.5h1M553 328.5h1M557 328.5h1M559 328.5h1M561 328.5h1M563 328.5h1M565 328.5h1M464 329.5h1M466 329.5h1M468 330.5h1M470 329.5h1M472 329.5h1M474 330.5h1M476 329.5h1M478 329.5h1M480 329.5h1M484 330.5h1M486 329.5h1M488 329.5h1M490 330.5h1M492 330.5h1M494 330.5h1M496 330.5h1M498 329.5h1M500 329.5h1M502 329.5h1M504 329.5h1M506 330.5h1M508 330.5h1M510 329.5h1M512 330.5h1M514 329.5h1M518 330.5h1M520 329.5h1M522 329.5h1M524 329.5h1M526 330.5h1M528 330.5h1M530 329.5h1M532 329.5h1M534 330.5h1M536 329.5h1M538 329.5h1M540 329.5h1M542 329.5h1M544 329.5h1M546 329.5h1M548 329.5h1M552 329.5h1M554 330.5h1M558 329.5h1M560 330.5h1M562 329.5h1M564 329.5h1M566 330.5h1M568 330.5h1M463 331.5h1M465 331.5h1M469 331.5h1M471 331.5h1M475 331.5h1M477 331.5h1M479 331.5h1M481 331.5h1M483 331.5h1M485 331.5h1M489 331.5h1M491 331.5h1M493 331.5h1M497 331.5h1M499 331.5h1M501 331.5h1M503 331.5h1M505 331.5h1M507 331.5h1M509 331.5h1M511 331.5h1M515 331.5h1M517 331.5h1M519 331.5h1M521 331.5h1M523 331.5h1M525 331.5h1M527 331.5h1M529 331.5h1M531 331.5h1M533 331.5h1M535 331.5h1M537 331.5h1M539 331.5h1M541 331.5h1M545 331.5h1M547 331.5h1M549 331.5h1M553 331.5h1M555 331.5h1M557 331.5h1M561 331.5h1M563 331.5h1M565 331.5h1M567 331.5h1M464 333.5h1M466 333.5h1M468 333.5h1M470 333.5h1M472 333.5h1M476 333.5h1M478 333.5h1M480 333.5h1M482 333.5h1M484 333.5h1M486 333.5h1M488 333.5h1M490 333.5h1M494 333.5h1M496 333.5h1M498 333.5h1M500 333.5h1M502 333.5h1M504 333.5h1M506 333.5h1M508 333.5h1M510 333.5h1M512 333.5h1M514 333.5h1M516 333.5h1M518 333.5h1M520 333.5h1M522 333.5h1M524 333.5h1M526 333.5h1M528 333.5h1M530 333.5h1M532 333.5h1M534 333.5h1M536 333.5h1M538 333.5h1M540 333.5h1M542 333.5h1M544 333.5h1M546 333.5h1M548 333.5h1M550 333.5h1M552 333.5h1M554 333.5h1M556 333.5h1M558 333.5h1M560 333.5h1M562 333.5h1M564 333.5h1M566 333.5h1M568 333.5h1M463 335.5h1M467 335.5h1M469 335.5h1M471 335.5h1M473 335.5h1M475 335.5h1M477 335.5h1M479 335.5h1M481 335.5h1M483 335.5h1M487 335.5h1M489 335.5h1M491 335.5h1M493 335.5h1M495 335.5h1M497 335.5h1M499 335.5h1M501 335.5h1M503 335.5h1M505 335.5h1M507 335.5h1M511 335.5h1M513 335.5h1M515 335.5h1M517 335.5h1M519 335.5h1M521 335.5h1M523 335.5h1M525 335.5h1M527 335.5h1M529 335.5h1M533 335.5h1M535 335.5h1M537 335.5h1M541 335.5h1M543 335.5h1M545 335.5h1M547 335.5h1M549 335.5h1M551 335.5h1M553 335.5h1M555 335.5h1M557 335.5h1M559 335.5h1M561 335.5h1M563 335.5h1M565 335.5h1M567 335.5h1M464 336.5h1M466 336.5h1M468 337.5h1M470 337.5h1M472 337.5h1M474 336.5h1M476 337.5h1M478 337.5h1M480 337.5h1M482 337.5h1M486 337.5h1M488 337.5h1M490 337.5h1M492 337.5h1M494 337.5h1M496 337.5h1M500 336.5h1M502 337.5h1M504 337.5h1M506 337.5h1M508 337.5h1M510 336.5h1M512 336.5h1M518 337.5h1M520 337.5h1M522 337.5h1M524 336.5h1M526 337.5h1M528 336.5h1M530 336.5h1M532 337.5h1M536 337.5h1M538 337.5h1M540 337.5h1M542 337.5h1M544 337.5h1M546 337.5h1M548 337.5h1M550 336.5h1M554 336.5h1M556 337.5h1M558 337.5h1M560 337.5h1M562 337.5h1M564 337.5h1M568 336.5h1M463 339.5h1M465 339.5h1M467 338.5h1M473 338.5h1M475 338.5h1M477 338.5h1M481 339.5h1M483 338.5h1M485 338.5h1M487 338.5h1M489 338.5h1M491 338.5h1M493 338.5h1M495 339.5h1M497 338.5h1M499 338.5h1M501 339.5h1M503 338.5h1M505 338.5h1M507 338.5h1M509 338.5h1M511 338.5h1M513 338.5h1M515 338.5h1M517 339.5h1M519 339.5h1M521 338.5h1M525 338.5h1M527 338.5h1M529 338.5h1M531 338.5h1M533 338.5h1M535 338.5h1M539 338.5h1M541 338.5h1M543 339.5h1M545 338.5h1M547 338.5h1M549 338.5h1M551 338.5h1M553 338.5h1M555 338.5h1M559 339.5h1M561 339.5h1M563 339.5h1M567 338.5h1M464 340.5h1M466 340.5h1M468 340.5h1M470 340.5h1M472 340.5h1M474 340.5h1M476 340.5h1M478 340.5h1M480 340.5h1M482 340.5h1M484 340.5h1M486 340.5h1M488 340.5h1M492 340.5h1M494 340.5h1M496 340.5h1M498 340.5h1M500 340.5h1M502 340.5h1M506 340.5h1M508 340.5h1M512 340.5h1M514 340.5h1M516 340.5h1M518 340.5h1M520 340.5h1M522 340.5h1M524 340.5h1M526 340.5h1M528 340.5h1M530 340.5h1M532 340.5h1M534 340.5h1M536 340.5h1M538 340.5h1M540 340.5h1M542 340.5h1M544 340.5h1M546 340.5h1M548 340.5h1M550 340.5h1M552 340.5h1M554 340.5h1M556 340.5h1M560 340.5h1M562 340.5h1M564 340.5h1M566 340.5h1M568 340.5h1M463 342.5h1M465 342.5h1M467 342.5h1M469 342.5h1M471 342.5h1M473 342.5h1M475 342.5h1M477 342.5h1M479 342.5h1M481 342.5h1M483 342.5h1M487 342.5h1M489 342.5h1M491 342.5h1M493 342.5h1M495 342.5h1M497 342.5h1M499 342.5h1M501 342.5h1M503 342.5h1M509 342.5h1M511 342.5h1M513 342.5h1M515 342.5h1M517 342.5h1M519 342.5h1M521 342.5h1M523 342.5h1M525 342.5h1M527 342.5h1M529 342.5h1M531 342.5h1M533 342.5h1M535 342.5h1M537 342.5h1M539 342.5h1M541 342.5h1M543 342.5h1M547 342.5h1M555 342.5h1M557 342.5h1M559 342.5h1M561 342.5h1M563 342.5h1M565 342.5h1M567 342.5h1M464 344.5h1M468 344.5h1M472 344.5h1M474 344.5h1M476 344.5h1M478 344.5h1M480 344.5h1M482 344.5h1M484 344.5h1M486 344.5h1M490 344.5h1M496 344.5h1M498 344.5h1M500 344.5h1M504 344.5h1M506 344.5h1M508 344.5h1M510 344.5h1M512 344.5h1M514 344.5h1M516 344.5h1M518 344.5h1M520 344.5h1M522 344.5h1M524 344.5h1M530 344.5h1M534 344.5h1M536 344.5h1M542 344.5h1M544 344.5h1M546 344.5h1M548 344.5h1M552 344.5h1M554 344.5h1M556 344.5h1M558 344.5h1M560 344.5h1M562 344.5h1M564 344.5h1M566 344.5h1M463 346.5h1M465 346.5h1M467 346.5h1M469 345.5h1M471 346.5h1M473 346.5h1M477 346.5h1M479 345.5h1M481 346.5h1M483 345.5h1M485 346.5h1M487 345.5h1M489 346.5h1M491 345.5h1M493 346.5h1M495 345.5h1M497 346.5h1M499 345.5h1M503 346.5h1M505 346.5h1M507 346.5h1M509 346.5h1M511 346.5h1M513 345.5h1M515 346.5h1M517 345.5h1M519 346.5h1M521 346.5h1M523 346.5h1M527 346.5h1M529 346.5h1M531 345.5h1M533 346.5h1M535 346.5h1M537 346.5h1M539 346.5h1M541 346.5h1M545 346.5h1M547 346.5h1M549 345.5h1M551 345.5h1M553 346.5h1M555 346.5h1M557 346.5h1M559 346.5h1M561 345.5h1M563 345.5h1M565 346.5h1M567 345.5h1M464 347.5h1M466 348.5h1M468 347.5h1M470 348.5h1M472 347.5h1M474 348.5h1M476 348.5h1M478 347.5h1M480 348.5h1M482 348.5h1M484 348.5h1M486 347.5h1M488 348.5h1M490 347.5h1M492 347.5h1M494 348.5h1M496 348.5h1M498 347.5h1M502 347.5h1M504 347.5h1M506 347.5h1M508 347.5h1M510 348.5h1M514 347.5h1M516 347.5h1M518 348.5h1M520 348.5h1M522 347.5h1M524 347.5h1M526 347.5h1M528 347.5h1M530 348.5h1M532 347.5h1M534 347.5h1M536 348.5h1M538 347.5h1M540 347.5h1M542 347.5h1M544 347.5h1M546 348.5h1M550 347.5h1M552 347.5h1M554 347.5h1M556 347.5h1M558 347.5h1M560 348.5h1M562 347.5h1M564 347.5h1M566 347.5h1M568 347.5h1M463 349.5h1M465 349.5h1M467 349.5h1M469 349.5h1M473 349.5h1M475 349.5h1M477 349.5h1M479 349.5h1M481 349.5h1M483 349.5h1M485 349.5h1M487 349.5h1M489 349.5h1M491 349.5h1M493 349.5h1M495 349.5h1M497 349.5h1M499 349.5h1M501 349.5h1M503 349.5h1M505 349.5h1M507 349.5h1M509 349.5h1M511 349.5h1M513 349.5h1M517 349.5h1M519 349.5h1M521 349.5h1M523 349.5h1M525 349.5h1M527 349.5h1M529 349.5h1M531 349.5h1M533 349.5h1M535 349.5h1M537 349.5h1M539 349.5h1M541 349.5h1M543 349.5h1M545 349.5h1M547 349.5h1M549 349.5h1M551 349.5h1M553 349.5h1M555 349.5h1M557 349.5h1M559 349.5h1M561 349.5h1M563 349.5h1M565 349.5h1M464 351.5h1M466 351.5h1M468 351.5h1M470 351.5h1M472 351.5h1M474 351.5h1M476 351.5h1M478 351.5h1M480 351.5h1M482 351.5h1M484 351.5h1M486 351.5h1M488 351.5h1M490 351.5h1M492 351.5h1M494 351.5h1M496 351.5h1M498 351.5h1M500 351.5h1M502 351.5h1M508 351.5h1M510 351.5h1M512 351.5h1M514 351.5h1M516 351.5h1M518 351.5h1M520 351.5h1M522 351.5h1M524 351.5h1M528 351.5h1M530 351.5h1M532 351.5h1M534 351.5h1M536 351.5h1M538 351.5h1M540 351.5h1M544 351.5h1M546 351.5h1M548 351.5h1M550 351.5h1M552 351.5h1M554 351.5h1M556 351.5h1M558 351.5h1M560 351.5h1M562 351.5h1M566 351.5h1M568 351.5h1M463 353.5h1M465 353.5h1M467 353.5h1M469 353.5h1M471 353.5h1M473 353.5h1M475 353.5h1M477 353.5h1M479 353.5h1M481 353.5h1M483 353.5h1M485 353.5h1M487 353.5h1M489 353.5h1M491 353.5h1M493 353.5h1M495 353.5h1M497 353.5h1M499 353.5h1M501 353.5h1M503 353.5h1M505 353.5h1M507 353.5h1M509 353.5h1M511 353.5h1M513 353.5h1M515 353.5h1M517 353.5h1M519 353.5h1M523 353.5h1M525 353.5h1M527 353.5h1M529 353.5h1M531 353.5h1M533 353.5h1M535 353.5h1M537 353.5h1M541 353.5h1M543 353.5h1M545 353.5h1M547 353.5h1M549 353.5h1M551 353.5h1M553 353.5h1M555 353.5h1M557 353.5h1M559 353.5h1M561 353.5h1M563 353.5h1M565 353.5h1M567 353.5h1M464 355.5h1M466 355.5h1M468 355.5h1M470 355.5h1M472 355.5h1M474 355.5h1M476 354.5h1M478 355.5h1M480 355.5h1M482 354.5h1M484 354.5h1M486 355.5h1M488 355.5h1M490 355.5h1M492 355.5h1M494 355.5h1M496 355.5h1M498 355.5h1M500 354.5h1M502 355.5h1M504 355.5h1M506 355.5h1M508 355.5h1M510 355.5h1M512 355.5h1M514 355.5h1M516 355.5h1M518 355.5h1M520 354.5h1M522 354.5h1M524 355.5h1M526 355.5h1M528 354.5h1M530 355.5h1M532 355.5h1M534 355.5h1M536 354.5h1M538 355.5h1M542 355.5h1M546 355.5h1M548 354.5h1M550 355.5h1M552 355.5h1M554 354.5h1M556 355.5h1M558 355.5h1M560 355.5h1M562 355.5h1M564 355.5h1M566 355.5h1M568 354.5h1M463 356.5h1M465 356.5h1M467 356.5h1M471 356.5h1M473 357.5h1M475 356.5h1M477 357.5h1M479 357.5h1M481 356.5h1M483 356.5h1M487 356.5h1M489 356.5h1M491 356.5h1M493 356.5h1M495 356.5h1M497 356.5h1M501 356.5h1M503 356.5h1M505 356.5h1M507 356.5h1M509 356.5h1M511 356.5h1M515 357.5h1M517 356.5h1M519 356.5h1M521 356.5h1M523 356.5h1M525 356.5h1M527 356.5h1M529 356.5h1M531 356.5h1M533 356.5h1M535 357.5h1M537 357.5h1M539 356.5h1M541 356.5h1M543 356.5h1M545 356.5h1M547 356.5h1M549 357.5h1M551 357.5h1M553 357.5h1M555 356.5h1M557 356.5h1M559 356.5h1M561 357.5h1M563 356.5h1M565 356.5h1M567 357.5h1M464 358.5h1M466 358.5h1M468 358.5h1M470 358.5h1M472 358.5h1M474 358.5h1M476 358.5h1M478 358.5h1M480 358.5h1M482 358.5h1M484 358.5h1M486 358.5h1M488 358.5h1M490 358.5h1M492 358.5h1M494 358.5h1M496 358.5h1M498 358.5h1M500 358.5h1M504 358.5h1M506 358.5h1M508 358.5h1M510 358.5h1M514 358.5h1M516 358.5h1M518 358.5h1M520 358.5h1M522 358.5h1M524 358.5h1M526 358.5h1M528 358.5h1M530 358.5h1M534 358.5h1M536 358.5h1M538 358.5h1M540 358.5h1M542 358.5h1M544 358.5h1M546 358.5h1M550 358.5h1M552 358.5h1M554 358.5h1M556 358.5h1M558 358.5h1M560 358.5h1M562 358.5h1M566 358.5h1M568 358.5h1M463 360.5h1M465 360.5h1M467 360.5h1M469 360.5h1M471 360.5h1M473 360.5h1M475 360.5h1M477 360.5h1M479 360.5h1M481 360.5h1M483 360.5h1M485 360.5h1M487 360.5h1M489 360.5h1M491 360.5h1M493 360.5h1M495 360.5h1M497 360.5h1M499 360.5h1M501 360.5h1M503 360.5h1M505 360.5h1M507 360.5h1M509 360.5h1M511 360.5h1M513 360.5h1M515 360.5h1M519 360.5h1M521 360.5h1M523 360.5h1M525 360.5h1M527 360.5h1M529 360.5h1M531 360.5h1M533 360.5h1M535 360.5h1M537 360.5h1M539 360.5h1M543 360.5h1M545 360.5h1M547 360.5h1M549 360.5h1M551 360.5h1M553 360.5h1M555 360.5h1M559 360.5h1M561 360.5h1M565 360.5h1M567 360.5h1M464 362.5h1M466 362.5h1M468 362.5h1M470 362.5h1M472 362.5h1M476 362.5h1M478 362.5h1M480 362.5h1M482 362.5h1M484 362.5h1M486 362.5h1M488 362.5h1M490 362.5h1M492 362.5h1M494 362.5h1M496 362.5h1M498 362.5h1M500 362.5h1M502 362.5h1M506 362.5h1M508 362.5h1M510 362.5h1M514 362.5h1M516 362.5h1M520 362.5h1M522 362.5h1M526 362.5h1M528 362.5h1M530 362.5h1M534 362.5h1M536 362.5h1M538 362.5h1M540 362.5h1M542 362.5h1M544 362.5h1M546 362.5h1M548 362.5h1M550 362.5h1M552 362.5h1M554 362.5h1M556 362.5h1M558 362.5h1M560 362.5h1M562 362.5h1M564 362.5h1M566 362.5h1M568 362.5h1M463 364.5h1M465 364.5h1M467 364.5h1M469 363.5h1M471 364.5h1M473 363.5h1M475 364.5h1M479 364.5h1M483 364.5h1M485 364.5h1M487 363.5h1M489 364.5h1M491 364.5h1M493 364.5h1M495 363.5h1M497 364.5h1M499 363.5h1M501 364.5h1M505 363.5h1M507 364.5h1M509 364.5h1M511 363.5h1M513 364.5h1M515 363.5h1M517 363.5h1M519 364.5h1M521 364.5h1M523 363.5h1M525 364.5h1M529 363.5h1M531 363.5h1M533 364.5h1M535 364.5h1M537 364.5h1M539 363.5h1M541 363.5h1M545 364.5h1M547 364.5h1M549 364.5h1M553 364.5h1M557 364.5h1M559 364.5h1M563 364.5h1M565 363.5h1M466 365.5h1M468 365.5h1M472 365.5h1M474 365.5h1M476 365.5h1M478 365.5h1M480 365.5h1M482 365.5h1M484 365.5h1M486 365.5h1M488 365.5h1M490 366.5h1M492 365.5h1M494 366.5h1M496 365.5h1M498 366.5h1M500 365.5h1M502 365.5h1M504 365.5h1M506 366.5h1M508 365.5h1M510 365.5h1M512 365.5h1M514 366.5h1M516 366.5h1M518 365.5h1M520 366.5h1M522 365.5h1M524 366.5h1M526 365.5h1M528 366.5h1M530 366.5h1M532 365.5h1M536 365.5h1M538 365.5h1M540 365.5h1M542 365.5h1M544 365.5h1M546 365.5h1M548 366.5h1M550 365.5h1M552 366.5h1M554 365.5h1M556 366.5h1M558 366.5h1M560 366.5h1M562 366.5h1M564 366.5h1M566 365.5h1M463 367.5h1M465 367.5h1M467 367.5h1M469 367.5h1M471 367.5h1M473 367.5h1M475 367.5h1M477 367.5h1M479 367.5h1M481 367.5h1M483 367.5h1M485 367.5h1M487 367.5h1M489 367.5h1M491 367.5h1M495 367.5h1M497 367.5h1M499 367.5h1M501 367.5h1M503 367.5h1M505 367.5h1M507 367.5h1M509 367.5h1M511 367.5h1M513 367.5h1M515 367.5h1M519 367.5h1M521 367.5h1M523 367.5h1M527 367.5h1M529 367.5h1M531 367.5h1M533 367.5h1M535 367.5h1M537 367.5h1M541 367.5h1M543 367.5h1M545 367.5h1M547 367.5h1M549 367.5h1M551 367.5h1M553 367.5h1M555 367.5h1M557 367.5h1M559 367.5h1M561 367.5h1M563 367.5h1M567 367.5h1M464 369.5h1M466 369.5h1M468 369.5h1M470 369.5h1M472 369.5h1M474 369.5h1M478 369.5h1M480 369.5h1M482 369.5h1M484 369.5h1M486 369.5h1M488 369.5h1M490 369.5h1M494 369.5h1M496 369.5h1M498 369.5h1M500 369.5h1M502 369.5h1M504 369.5h1M506 369.5h1M508 369.5h1M512 369.5h1M514 369.5h1M516 369.5h1M518 369.5h1M520 369.5h1M522 369.5h1M524 369.5h1M526 369.5h1M528 369.5h1M532 369.5h1M534 369.5h1M536 369.5h1M538 369.5h1M540 369.5h1M542 369.5h1M544 369.5h1M546 369.5h1M548 369.5h1M550 369.5h1M552 369.5h1M554 369.5h1M556 369.5h1M558 369.5h1M560 369.5h1M562 369.5h1M564 369.5h1M566 369.5h1M463 371.5h1M465 371.5h1M467 371.5h1M469 371.5h1M471 371.5h1M473 371.5h1M475 371.5h1M477 371.5h1M479 371.5h1M481 371.5h1M483 371.5h1M485 371.5h1M487 371.5h1M489 371.5h1M491 371.5h1M493 371.5h1M495 371.5h1M497 371.5h1M499 371.5h1M503 371.5h1M505 371.5h1M507 371.5h1M509 371.5h1M511 371.5h1M515 371.5h1M517 371.5h1M519 371.5h1M521 371.5h1M523 371.5h1M525 371.5h1M527 371.5h1M529 371.5h1M531 371.5h1M533 371.5h1M535 371.5h1M537 371.5h1M539 371.5h1M541 371.5h1M543 371.5h1M545 371.5h1M547 371.5h1M549 371.5h1M551 371.5h1M553 371.5h1M559 371.5h1M561 371.5h1M563 371.5h1M565 371.5h1M567 371.5h1" stroke="#000" stroke-width="1" shape-rendering="crispEdges" fill="none" opacity="0.8"/><path d="M505 307.5h1M500 334.5h1M467 309.5h1M517 341.5h1M550 357.5h1M550 358.5h1M522 356.5h2M532 328.5h2M566 338.5h1M478 332.5h1M478 333.5h1M532 349.5h1M502 343.5h1M558 328.5h1M558 329.5h1M559 351.5h1M471 307.5h1M560 348.5h1M520 368.5h2M484 349.5h1M474 364.5h1M539 318.5h1M539 319.5h1M487 325.5h1M567 332.5h1M567 333.5h1M534 337.5h2M469 344.5h2M564 331.5h1M473 324.5h2M471 329.5h2M523 327.5h2M528 325.5h1M484 368.5h1M500 306.5h1M472 364.5h2M484 348.5h1M546 331.5h2M505 317.5h2M475 350.5h2M467 350.5h1M467 351.5h1M484 331.5h1M489 346.5h1M545 309.5h2M488 331.5h1M475 366.5h1M488 348.5h1M527 324.5h1M475 321.5h2M477 321.5h1M503 359.5h1M487 360.5h1M495 358.5h1M495 359.5h1M566 339.5h1M512 338.5h2M500 316.5h1M515 330.5h2M534 357.5h1M486 369.5h1M516 311.5h1M514 342.5h2M510 334.5h2M480 369.5h1M464 364.5h2M464 333.5h1M526 366.5h2M468 312.5h2M474 350.5h1M474 351.5h1M479 322.5h1M531 340.5h2M464 369.5h1M514 336.5h2M491 365.5h2M525 312.5h2M490 351.5h2M565 327.5h1M565 328.5h1M469 307.5h2M474 334.5h1M539 321.5h1M539 322.5h1M527 342.5h1M522 321.5h1M538 355.5h2M537 345.5h1M558 308.5h2M490 365.5h1M490 366.5h1M494 347.5h1M494 348.5h1M521 337.5h2M542 369.5h1M542 370.5h1M503 358.5h1M550 368.5h1M544 344.5h1M544 345.5h1M565 355.5h1M539 320.5h1M546 308.5h1M508 320.5h1M475 360.5h2M532 322.5h2M496 358.5h2M496 370.5h1M504 346.5h1M488 334.5h1M512 348.5h1M489 346.5h1M505 322.5h1M511 356.5h2M493 349.5h2M499 332.5h1M559 356.5h1M559 357.5h1M503 342.5h1M539 332.5h2M522 357.5h1M491 329.5h2M485 348.5h1M485 349.5h1M564 358.5h2M553 343.5h2M496 315.5h1M484 340.5h1M528 359.5h1M559 327.5h1M472 363.5h2M537 329.5h1M477 330.5h1M556 331.5h1M556 332.5h1M524 350.5h1M524 351.5h1M529 350.5h1M493 366.5h1M493 367.5h1M507 314.5h2M530 363.5h2M534 360.5h1M507 328.5h2M513 357.5h1M492 369.5h1M463 313.5h2M489 338.5h1M497 320.5h2M516 363.5h1M477 325.5h2M561 356.5h1M489 370.5h2M479 361.5h1M479 362.5h1M543 339.5h1M514 307.5h1M546 325.5h2M558 335.5h2M551 345.5h2M534 360.5h1M491 362.5h1M491 363.5h1M505 344.5h1M536 353.5h1M539 318.5h1M476 320.5h1M479 342.5h1M549 362.5h1M549 339.5h1M466 336.5h1M524 320.5h1M539 317.5h1M518 308.5h1M542 355.5h1M542 356.5h1M563 353.5h1M498 365.5h1M472 358.5h1M530 337.5h1M530 326.5h1M501 346.5h2M482 370.5h1M467 333.5h1M488 342.5h1M488 343.5h1M508 314.5h1M508 315.5h1M544 309.5h1M480 357.5h1M507 366.5h2M504 307.5h2M464 355.5h1M468 359.5h1M523 335.5h2M544 364.5h2M544 307.5h2M497 329.5h1M554 312.5h1M472 320.5h2M489 323.5h2M511 336.5h2M530 334.5h1M464 359.5h2M507 317.5h1M537 360.5h1M537 361.5h1M535 308.5h1M520 309.5h1M494 367.5h2M547 362.5h1M501 340.5h2M495 370.5h1M538 368.5h2M505 344.5h2M482 360.5h1M482 361.5h1M500 314.5h2M517 330.5h1M566 360.5h1M566 361.5h1M541 359.5h2M521 321.5h2M510 328.5h2M556 355.5h1M556 356.5h1M479 312.5h1M519 354.5h1M543 333.5h1M543 334.5h1M487 321.5h2M531 353.5h2M547 357.5h2M547 352.5h2M477 331.5h1M477 332.5h1M547 334.5h2M507 310.5h2M479 370.5h1M479 371.5h1M525 307.5h1M551 339.5h1M478 314.5h1M506 334.5h1M525 325.5h1M509 334.5h1M557 323.5h1M484 352.5h1M528 307.5h1M528 308.5h1M475 353.5h1M475 354.5h1M533 329.5h1M533 330.5h1M519 361.5h1M562 336.5h1M491 336.5h1M491 337.5h1M505 323.5h2M554 325.5h1M496 336.5h2M466 344.5h1M554 306.5h1M562 370.5h2M504 332.5h1M470 327.5h2M488 345.5h2M483 325.5h1M483 326.5h1M535 322.5h2M533 353.5h2M530 321.5h1M474 320.5h1M474 321.5h1M504 364.5h1M486 363.5h1M486 364.5h1M514 368.5h2M522 332.5h2M502 349.5h1M502 350.5h1M549 307.5h1M512 340.5h2M467 330.5h1M467 331.5h1M504 329.5h1M504 330.5h1M464 364.5h2M488 315.5h1M547 318.5h1M549 342.5h2M505 310.5h2M504 321.5h1M504 322.5h1M474 327.5h2M492 344.5h1M509 349.5h1M545 348.5h1M472 359.5h1M472 360.5h1M495 345.5h1M509 334.5h2M543 317.5h2M563 354.5h1M470 369.5h1M505 360.5h1M505 361.5h1M531 346.5h1M530 310.5h1M530 311.5h1M482 347.5h1M558 328.5h1M482 334.5h1M533 346.5h1M505 326.5h1M497 313.5h1M497 314.5h1M496 369.5h2M470 360.5h1M506 361.5h1M547 311.5h2M527 331.5h1M527 332.5h1M555 325.5h1M522 312.5h1M485 356.5h1M533 346.5h1M533 347.5h1M532 357.5h1M532 358.5h1M485 324.5h2M551 319.5h1M551 320.5h1M488 321.5h1M488 322.5h1M507 307.5h1M515 314.5h2M518 330.5h2M527 361.5h1M554 312.5h1M484 357.5h1M465 328.5h2M532 316.5h1M532 317.5h1M523 359.5h1M548 319.5h2M533 343.5h1M524 327.5h1M562 326.5h1M522 324.5h1M526 312.5h1M567 335.5h1M567 340.5h2M495 312.5h1M495 313.5h1M555 366.5h2M506 368.5h2M503 328.5h2M555 327.5h1M490 318.5h1M474 318.5h1M506 351.5h2M510 337.5h1M510 338.5h1M482 367.5h1M519 339.5h2M481 347.5h2M508 346.5h1M567 327.5h1M504 317.5h2M558 356.5h2M542 307.5h1M492 353.5h1M501 368.5h1M563 332.5h1M554 353.5h2M465 338.5h1M465 339.5h1M545 365.5h2M467 360.5h1M522 343.5h1M497 356.5h1M541 335.5h1M495 361.5h2M543 333.5h1M543 334.5h1M477 315.5h1M489 328.5h1M531 346.5h1M531 347.5h1M508 361.5h1M473 360.5h2M494 312.5h2M473 329.5h1M479 338.5h2M549 340.5h1M483 357.5h1M483 358.5h1M537 368.5h1M507 368.5h1M513 354.5h2M554 323.5h1M502 339.5h1M559 370.5h1M497 321.5h2M548 364.5h2M508 366.5h2M537 338.5h2M532 332.5h2M546 315.5h2M538 363.5h1M500 340.5h1M538 310.5h1M477 315.5h1M564 317.5h1M519 327.5h1M543 368.5h1M543 369.5h1M557 318.5h2M529 311.5h2M539 343.5h1M539 344.5h1M560 347.5h2M535 313.5h1M529 318.5h2M513 330.5h2M507 370.5h2M483 342.5h1M559 334.5h1M541 330.5h1M472 337.5h2M477 312.5h1M549 314.5h2M476 324.5h2M543 308.5h2M537 306.5h1M482 316.5h1M515 312.5h1M487 328.5h2M476 311.5h2M481 313.5h1M488 340.5h1M488 341.5h1M481 308.5h1M481 309.5h1M533 320.5h2M557 361.5h2M512 357.5h2M471 344.5h1M532 348.5h1M532 349.5h1M562 336.5h1M537 369.5h1M471 364.5h1M480 325.5h2M550 313.5h1M535 314.5h1M535 315.5h1M561 342.5h1M470 332.5h1M486 358.5h1M488 340.5h1M488 341.5h1M493 325.5h2M517 307.5h1M514 365.5h1M514 366.5h1M487 332.5h1M552 357.5h1M552 358.5h1M536 370.5h1M558 313.5h1M469 331.5h1M487 355.5h1M486 344.5h2M472 353.5h2M503 319.5h1M503 320.5h1M542 332.5h2M517 311.5h1M480 334.5h1M545 313.5h1M490 365.5h1M516 313.5h2M467 358.5h1M511 361.5h1M542 337.5h1M516 339.5h1M516 340.5h1M491 327.5h1M508 352.5h1M514 368.5h1M562 322.5h1M493 310.5h1M520 368.5h1M549 355.5h1M471 323.5h2M536 360.5h1M556 312.5h2M548 319.5h1M469 366.5h1M497 330.5h2M550 360.5h1M548 336.5h1M467 340.5h1M502 366.5h1M510 343.5h2M559 317.5h1M559 318.5h1M526 330.5h2M500 326.5h2M512 345.5h1M548 311.5h2M547 338.5h1M555 306.5h2M529 331.5h2M466 338.5h1M532 306.5h1M487 357.5h1M521 344.5h2M482 368.5h1M524 344.5h1M528 324.5h1M484 351.5h2M539 324.5h1M516 326.5h1M463 340.5h1M492 320.5h1M492 321.5h1M528 329.5h1M487 318.5h1M466 336.5h1M485 368.5h1M485 369.5h1M487 352.5h1M469 329.5h1M514 334.5h1M469 338.5h2M488 316.5h1M488 317.5h1M563 360.5h2M511 307.5h1M480 362.5h1M480 363.5h1M539 363.5h2M466 307.5h2M545 338.5h1M513 312.5h2M481 307.5h1M537 330.5h2M516 343.5h2M505 346.5h2M514 358.5h1M514 359.5h1M532 320.5h1M563 307.5h1M507 329.5h1M466 360.5h2M511 360.5h2M519 362.5h2M505 330.5h1M535 364.5h1M483 334.5h1M474 356.5h1M472 314.5h1M472 315.5h1M490 327.5h1M490 328.5h1M492 334.5h2M536 336.5h1M512 338.5h1M566 356.5h2M468 347.5h2M544 340.5h2M543 323.5h1M543 324.5h1M523 344.5h1M487 360.5h1M487 361.5h1M472 366.5h1M472 367.5h1M514 336.5h1M514 337.5h1M469 320.5h1M484 346.5h1M484 347.5h1M561 343.5h1M561 344.5h1M511 336.5h2M465 307.5h2M553 352.5h1M481 320.5h1M545 365.5h2M490 343.5h1M553 329.5h2M522 345.5h1M492 357.5h2M478 314.5h1M478 315.5h1M523 326.5h1M501 313.5h1M518 320.5h1M518 321.5h1M466 312.5h1M493 313.5h1M505 354.5h2M559 317.5h1M559 318.5h1M473 310.5h1M533 333.5h1M478 368.5h1M478 369.5h1M550 328.5h1M497 347.5h1M566 317.5h2M498 350.5h1M477 367.5h2M540 357.5h2M552 328.5h2M515 370.5h1M488 366.5h1M479 308.5h1M539 346.5h1M529 317.5h1M463 316.5h1M486 330.5h1M534 368.5h2M545 316.5h1M506 364.5h1M564 340.5h1M500 332.5h2M539 325.5h1M503 319.5h1M530 346.5h1M476 313.5h1M550 343.5h1M553 343.5h2M525 327.5h1M511 346.5h1M511 347.5h1M544 319.5h1M490 351.5h2M539 336.5h1M524 353.5h2M555 309.5h1M531 336.5h2M541 346.5h1M501 334.5h2M487 363.5h1M538 345.5h1M525 358.5h2M523 323.5h2M501 325.5h1M483 308.5h2M471 349.5h1M471 350.5h1M472 329.5h1M472 330.5h1M558 328.5h1M558 329.5h1M511 325.5h2M550 340.5h2M506 347.5h2M552 360.5h2M552 362.5h1M482 346.5h1M482 347.5h1M467 352.5h1M487 341.5h1M487 342.5h1M473 335.5h1M475 329.5h2M539 369.5h1M509 334.5h1M509 335.5h1M466 342.5h1M525 340.5h1M517 340.5h1M479 311.5h2M509 306.5h2M506 345.5h1M474 306.5h1M564 317.5h1M552 360.5h2M497 342.5h1M548 338.5h1M548 339.5h1M541 365.5h2M512 361.5h1M513 322.5h1M513 323.5h1M509 325.5h1M509 326.5h1M539 332.5h1M536 368.5h1M510 310.5h1M489 333.5h1M498 312.5h1M467 306.5h2M464 348.5h2M480 349.5h1M532 325.5h2M518 356.5h1M482 370.5h1M561 307.5h1M536 329.5h1M466 338.5h1M549 308.5h1M521 342.5h1M547 323.5h2M564 366.5h1M566 346.5h1M527 353.5h1M468 323.5h1M531 361.5h1M537 337.5h1M479 350.5h1M483 344.5h2M468 315.5h1M548 335.5h1M551 315.5h2M507 334.5h2M563 347.5h1M555 335.5h1M555 336.5h1M551 331.5h1M550 350.5h1M521 316.5h1M563 360.5h1M506 343.5h1M562 368.5h1M533 353.5h1M486 342.5h1M486 343.5h1M485 343.5h1M473 346.5h1M552 312.5h1M508 353.5h2M468 322.5h2" stroke="#000" stroke-width="1" shape-rendering="crispEdges" fill="none"/><path d="M562.6 325.0l0.8 2.5M494.9 359.9l-1.8 0.0M512.0 315.5l-0.4 2.1M564.0 352.4l-2.7 0.1M548.7 330.5l-0.8 1.5M499.3 364.7l-1.8 0.1M514.5 331.9l-0.9 2.2M490.3 362.1l0.4 2.6M538.1 368.4l-0.1 2.4M543.3 320.8l2.7 0.4M535.2 353.8l-1.5 1.1M554.2 346.9l-2.3 0.4M552.9 309.8l2.0 1.2M532.4 330.7l2.8 0.6M470.6 362.6l1.9 1.7M524.7 321.2l1.0 1.6M518.5 323.8l-0.3 1.9M475.7 350.4l2.0 2.1M505.2 322.9l-1.8 2.2M501.6 352.8l1.5 2.6M494.3 308.5l2.3 0.0M528.0 324.4l0.6 2.0M500.9 318.2l-0.3 2.5M466.0 362.2l1.5 1.6M485.8 349.0l0.7 2.3M505.5 338.5l2.9 0.8M507.3 327.2l-1.7 0.9M545.2 333.1l2.2 0.8M492.3 319.0l-2.9 0.1M512.1 357.5l-1.0 1.7M476.6 343.1l2.2 1.5M524.9 320.2l-2.3 1.9M513.0 367.8l0.2 1.5M511.1 328.6l-2.2 0.6M562.8 316.5l0.5 1.4M468.5 351.4l1.8 0.2M508.2 364.7l1.1 1.0M535.9 350.4l2.6 1.2M552.9 365.7l-2.0 1.2M535.9 314.1l-0.9 1.8M498.0 326.1l2.6 0.7M542.5 306.8l-0.1 1.5M519.7 316.8l-2.0 0.2M517.5 322.9l-1.4 0.4M494.6 320.5l-1.4 1.5M552.6 327.0l2.0 0.8M472.1 315.9l-0.2 2.4M485.4 317.6l-0.1 2.2M513.1 348.8l1.4 0.7M469.9 356.7l-1.0 1.4M497.5 325.8l-2.1 0.5M537.3 311.7l1.8 0.2M529.7 334.6l-2.5 1.1M532.1 369.5l-2.8 0.4M472.5 331.6l2.2 1.1M515.6 312.1l2.1 0.5M528.0 332.0l0.2 2.4M535.6 351.1l0.5 1.7M553.4 308.8l1.4 1.1M524.8 345.7l2.2 0.7M522.8 349.8l2.5 0.6M491.2 330.6l2.6 1.1M527.3 357.8l-0.1 1.7M504.8 311.2l2.6 0.8M463.2 330.9l2.6 0.3M565.9 308.3l1.2 2.7M489.2 325.9l-2.9 0.1M503.3 348.8l-1.6 1.2M463.4 329.9l-1.7 2.4M509.0 332.3l0.9 2.2M465.5 364.2l-1.5 0.2M463.8 326.1l2.4 1.2M553.4 340.9l-1.8 0.3M483.5 330.6l0.3 1.8M558.7 353.9l1.1 1.4M492.6 331.3l-1.2 2.4M561.7 311.3l1.7 1.2M561.9 335.2l-1.7 2.1M511.0 330.1l-1.9 1.6M566.2 323.4l-2.2 0.3M553.3 346.9l-0.6 2.7M471.6 324.0l0.1 2.7M482.5 355.7l1.9 0.6M511.3 351.6l-0.2 2.8M535.0 330.6l-0.1 2.1M553.7 325.5l1.6 1.0M489.2 357.6l-1.0 1.6M506.8 363.0l-1.8 0.2M561.1 309.9l-2.0 0.0M562.2 308.2l-1.6 2.4M548.2 342.5l1.6 0.9M561.0 361.2l1.5 1.3M526.8 325.5l2.2 1.7M474.7 346.4l0.6 2.1M553.6 353.6l-1.2 1.0M547.2 356.5l1.8 0.0M539.0 361.4l-0.3 2.8M472.3 322.7l-2.3 1.4M486.3 342.3l0.5 2.6M504.5 326.5l-1.9 1.7M500.7 351.6l1.5 1.7M482.7 328.0l0.4 1.6M495.5 328.5l1.2 1.9M556.5 360.1l1.0 1.4M472.3 362.4l-1.9 1.8M557.3 331.7l1.4 0.8M504.6 355.0l2.1 0.6M471.6 319.8l-0.4 2.4M560.9 326.5l1.2 1.1M482.7 308.4l1.7 0.0M518.8 335.2l-2.1 0.6M472.2 315.5l-1.7 2.4M540.9 321.1l1.0 1.9M508.1 324.1l1.4 0.7M554.5 368.1l-2.1 0.1M534.5 319.3l1.4 0.5M497.7 356.9l-0.2 1.8M513.1 340.5l1.8 1.3M559.5 334.6l-2.6 0.1M476.5 364.5l-1.2 1.8M482.8 348.0l1.8 1.2M478.9 332.5l-2.4 0.2M516.4 345.5l-1.1 2.1M492.8 319.7l-0.9 2.7M553.6 337.2l1.4 1.9M468.0 337.7l-2.3 1.9M472.6 318.9l0.2 2.4M563.2 313.0l2.0 0.9M545.5 308.0l0.9 2.4M506.8 317.6l2.6 0.6M516.1 340.4l-1.4 2.2M504.9 329.4l-1.6 0.4M543.7 335.5l-0.2 1.9M561.0 325.5l0.8 1.3M555.6 358.9l1.7 0.3M493.1 308.0l0.0 2.8M537.9 338.1l-2.0 0.1M496.2 323.1l-0.7 2.1M476.1 337.5l-2.8 0.3M527.9 361.0l0.1 2.2M535.4 319.0l-0.7 2.2M494.1 337.8l2.1 1.3M475.1 334.6l2.3 0.4M473.3 358.5l2.7 0.2M494.2 366.8l0.9 1.5M532.6 321.7l-1.8 1.2M490.9 343.7l1.5 1.2M471.7 321.3l1.3 1.1M506.3 334.7l-0.7 2.2M534.0 345.2l0.3 2.8M477.9 323.7l2.9 0.1M554.5 332.1l-2.1 1.1M559.7 363.4l1.0 1.7M506.3 366.9l0.2 2.0M465.7 330.6l-2.1 0.5M545.6 363.2l-2.5 0.5M514.7 325.2l-2.7 0.5M540.3 309.7l-1.1 2.3M477.2 326.9l0.3 1.9M474.3 315.9l0.2 1.5M545.5 332.7l1.2 1.4M496.0 344.2l-1.3 1.7M537.3 342.6l-2.2 1.4M542.5 307.7l0.8 1.5M549.3 316.6l-2.0 0.5M479.0 350.5l1.7 1.1M508.7 346.4l-0.1 2.5M545.4 367.6l-0.8 2.0M514.7 328.3l-2.0 1.2M535.4 358.2l-1.6 2.3M510.3 350.4l-2.1 0.8M548.3 323.9l2.4 1.3M520.4 367.3l-0.6 1.8M475.8 363.2l1.2 1.2M518.0 351.8l-0.4 1.5M544.2 349.1l1.5 2.5M514.5 354.9l1.9 0.6M541.6 349.6l-1.5 2.0M466.1 360.5l1.8 0.2M494.6 337.9l2.0 0.6M477.7 327.5l0.8 1.5M546.5 308.1l2.3 1.7M505.2 366.3l1.3 1.9M517.9 331.9l-2.1 0.1M545.9 338.4l1.3 2.5M559.0 307.2l-0.8 2.5M515.8 331.9l-1.1 1.3M512.5 318.9l-2.4 1.1M504.3 356.1l-0.3 2.5M488.0 355.2l-1.4 2.7M490.4 331.7l-1.5 1.2M542.6 360.2l2.2 1.3M493.3 323.5l1.2 2.4M529.4 330.6l-1.5 2.3M483.5 361.1l-0.2 2.4M552.4 319.8l0.3 2.6M464.9 331.1l-0.3 2.2M515.5 359.3l2.4 0.9M492.5 311.5l0.2 1.7M510.8 316.9l0.3 1.7M566.5 319.5l0.4 2.4M533.1 314.4l-1.8 0.9M471.8 333.5l-0.8 1.9M538.7 326.0l-2.4 1.6M547.9 310.2l0.6 2.2M502.9 318.0l-0.5 1.6M480.6 332.7l-2.1 0.0M563.4 348.9l-1.3 2.6M523.6 353.1l0.2 2.7M553.9 306.3l-1.5 0.3M529.6 310.8l-1.5 1.5M477.4 359.7l2.0 2.0M503.0 341.7l0.5 2.6M500.0 338.8l1.5 1.3M474.6 322.8l1.6 1.9M478.3 316.0l-2.5 0.2M472.1 361.1l-1.8 1.7M563.0 340.1l1.4 0.6M472.6 335.6l-0.5 2.7M470.5 310.7l2.0 0.6M560.3 355.8l2.4 0.3M482.0 320.5l1.0 1.6M493.9 320.4l1.1 2.1M521.5 352.5l1.0 1.2M522.5 326.1l1.7 1.3M561.3 344.2l-1.0 1.2M519.6 350.6l-2.4 1.1M468.5 368.9l2.7 0.1M512.0 365.2l-2.6 0.4M471.8 347.3l2.0 0.8" stroke="#000" stroke-width="0.6" fill="none" opacity="0.85"/>
</g>
<rect x="436.5" y="195.0" width="25.69999999999999" height="10.4" fill="#1c1c1c"/><g fill="#fff"><ellipse cx="438.1" cy="196.10" rx="1.05" ry="0.5"/><ellipse cx="441.3" cy="196.10" rx="1.05" ry="0.5"/><ellipse cx="444.5" cy="196.10" rx="1.05" ry="0.5"/><ellipse cx="447.7" cy="196.10" rx="1.05" ry="0.5"/><ellipse cx="450.9" cy="196.10" rx="1.05" ry="0.5"/><ellipse cx="454.1" cy="196.10" rx="1.05" ry="0.5"/><ellipse cx="457.3" cy="196.10" rx="1.05" ry="0.5"/><ellipse cx="460.5" cy="196.10" rx="1.05" ry="0.5"/><ellipse cx="439.7" cy="197.55" rx="1.05" ry="0.5"/><ellipse cx="442.9" cy="197.55" rx="1.05" ry="0.5"/><ellipse cx="446.1" cy="197.55" rx="1.05" ry="0.5"/><ellipse cx="449.3" cy="197.55" rx="1.05" ry="0.5"/><ellipse cx="452.5" cy="197.55" rx="1.05" ry="0.5"/><ellipse cx="455.7" cy="197.55" rx="1.05" ry="0.5"/><ellipse cx="458.9" cy="197.55" rx="1.05" ry="0.5"/><ellipse cx="438.1" cy="199.00" rx="1.05" ry="0.5"/><ellipse cx="441.3" cy="199.00" rx="1.05" ry="0.5"/><ellipse cx="444.5" cy="199.00" rx="1.05" ry="0.5"/><ellipse cx="447.7" cy="199.00" rx="1.05" ry="0.5"/><ellipse cx="450.9" cy="199.00" rx="1.05" ry="0.5"/><ellipse cx="454.1" cy="199.00" rx="1.05" ry="0.5"/><ellipse cx="457.3" cy="199.00" rx="1.05" ry="0.5"/><ellipse cx="460.5" cy="199.00" rx="1.05" ry="0.5"/><ellipse cx="439.7" cy="200.45" rx="1.05" ry="0.5"/><ellipse cx="442.9" cy="200.45" rx="1.05" ry="0.5"/><ellipse cx="446.1" cy="200.45" rx="1.05" ry="0.5"/><ellipse cx="449.3" cy="200.45" rx="1.05" ry="0.5"/><ellipse cx="452.5" cy="200.45" rx="1.05" ry="0.5"/><ellipse cx="455.7" cy="200.45" rx="1.05" ry="0.5"/><ellipse cx="458.9" cy="200.45" rx="1.05" ry="0.5"/><ellipse cx="438.1" cy="201.90" rx="1.05" ry="0.5"/><ellipse cx="441.3" cy="201.90" rx="1.05" ry="0.5"/><ellipse cx="444.5" cy="201.90" rx="1.05" ry="0.5"/><ellipse cx="447.7" cy="201.90" rx="1.05" ry="0.5"/><ellipse cx="450.9" cy="201.90" rx="1.05" ry="0.5"/><ellipse cx="454.1" cy="201.90" rx="1.05" ry="0.5"/><ellipse cx="457.3" cy="201.90" rx="1.05" ry="0.5"/><ellipse cx="460.5" cy="201.90" rx="1.05" ry="0.5"/><ellipse cx="439.7" cy="203.35" rx="1.05" ry="0.5"/><ellipse cx="442.9" cy="203.35" rx="1.05" ry="0.5"/><ellipse cx="446.1" cy="203.35" rx="1.05" ry="0.5"/><ellipse cx="449.3" cy="203.35" rx="1.05" ry="0.5"/><ellipse cx="452.5" cy="203.35" rx="1.05" ry="0.5"/><ellipse cx="455.7" cy="203.35" rx="1.05" ry="0.5"/><ellipse cx="458.9" cy="203.35" rx="1.05" ry="0.5"/><ellipse cx="438.1" cy="204.80" rx="1.05" ry="0.5"/><ellipse cx="441.3" cy="204.80" rx="1.05" ry="0.5"/><ellipse cx="444.5" cy="204.80" rx="1.05" ry="0.5"/><ellipse cx="447.7" cy="204.80" rx="1.05" ry="0.5"/><ellipse cx="450.9" cy="204.80" rx="1.05" ry="0.5"/><ellipse cx="454.1" cy="204.80" rx="1.05" ry="0.5"/><ellipse cx="457.3" cy="204.80" rx="1.05" ry="0.5"/><ellipse cx="460.5" cy="204.80" rx="1.05" ry="0.5"/></g>
<rect x="569.4" y="195.0" width="25.600000000000023" height="10.4" fill="#1c1c1c"/><g fill="#fff"><ellipse cx="571.0" cy="196.10" rx="1.05" ry="0.5"/><ellipse cx="574.2" cy="196.10" rx="1.05" ry="0.5"/><ellipse cx="577.4" cy="196.10" rx="1.05" ry="0.5"/><ellipse cx="580.6" cy="196.10" rx="1.05" ry="0.5"/><ellipse cx="583.8" cy="196.10" rx="1.05" ry="0.5"/><ellipse cx="587.0" cy="196.10" rx="1.05" ry="0.5"/><ellipse cx="590.2" cy="196.10" rx="1.05" ry="0.5"/><ellipse cx="593.4" cy="196.10" rx="1.05" ry="0.5"/><ellipse cx="572.6" cy="197.55" rx="1.05" ry="0.5"/><ellipse cx="575.8" cy="197.55" rx="1.05" ry="0.5"/><ellipse cx="579.0" cy="197.55" rx="1.05" ry="0.5"/><ellipse cx="582.2" cy="197.55" rx="1.05" ry="0.5"/><ellipse cx="585.4" cy="197.55" rx="1.05" ry="0.5"/><ellipse cx="588.6" cy="197.55" rx="1.05" ry="0.5"/><ellipse cx="591.8" cy="197.55" rx="1.05" ry="0.5"/><ellipse cx="571.0" cy="199.00" rx="1.05" ry="0.5"/><ellipse cx="574.2" cy="199.00" rx="1.05" ry="0.5"/><ellipse cx="577.4" cy="199.00" rx="1.05" ry="0.5"/><ellipse cx="580.6" cy="199.00" rx="1.05" ry="0.5"/><ellipse cx="583.8" cy="199.00" rx="1.05" ry="0.5"/><ellipse cx="587.0" cy="199.00" rx="1.05" ry="0.5"/><ellipse cx="590.2" cy="199.00" rx="1.05" ry="0.5"/><ellipse cx="593.4" cy="199.00" rx="1.05" ry="0.5"/><ellipse cx="572.6" cy="200.45" rx="1.05" ry="0.5"/><ellipse cx="575.8" cy="200.45" rx="1.05" ry="0.5"/><ellipse cx="579.0" cy="200.45" rx="1.05" ry="0.5"/><ellipse cx="582.2" cy="200.45" rx="1.05" ry="0.5"/><ellipse cx="585.4" cy="200.45" rx="1.05" ry="0.5"/><ellipse cx="588.6" cy="200.45" rx="1.05" ry="0.5"/><ellipse cx="591.8" cy="200.45" rx="1.05" ry="0.5"/><ellipse cx="571.0" cy="201.90" rx="1.05" ry="0.5"/><ellipse cx="574.2" cy="201.90" rx="1.05" ry="0.5"/><ellipse cx="577.4" cy="201.90" rx="1.05" ry="0.5"/><ellipse cx="580.6" cy="201.90" rx="1.05" ry="0.5"/><ellipse cx="583.8" cy="201.90" rx="1.05" ry="0.5"/><ellipse cx="587.0" cy="201.90" rx="1.05" ry="0.5"/><ellipse cx="590.2" cy="201.90" rx="1.05" ry="0.5"/><ellipse cx="593.4" cy="201.90" rx="1.05" ry="0.5"/><ellipse cx="572.6" cy="203.35" rx="1.05" ry="0.5"/><ellipse cx="575.8" cy="203.35" rx="1.05" ry="0.5"/><ellipse cx="579.0" cy="203.35" rx="1.05" ry="0.5"/><ellipse cx="582.2" cy="203.35" rx="1.05" ry="0.5"/><ellipse cx="585.4" cy="203.35" rx="1.05" ry="0.5"/><ellipse cx="588.6" cy="203.35" rx="1.05" ry="0.5"/><ellipse cx="591.8" cy="203.35" rx="1.05" ry="0.5"/><ellipse cx="571.0" cy="204.80" rx="1.05" ry="0.5"/><ellipse cx="574.2" cy="204.80" rx="1.05" ry="0.5"/><ellipse cx="577.4" cy="204.80" rx="1.05" ry="0.5"/><ellipse cx="580.6" cy="204.80" rx="1.05" ry="0.5"/><ellipse cx="583.8" cy="204.80" rx="1.05" ry="0.5"/><ellipse cx="587.0" cy="204.80" rx="1.05" ry="0.5"/><ellipse cx="590.2" cy="204.80" rx="1.05" ry="0.5"/><ellipse cx="593.4" cy="204.80" rx="1.05" ry="0.5"/></g>
<path d="M436.5 195.0V372.5H594.6V195.0M436.5 195.0H462.2M569.4 195.0H595.0" stroke="#3a3a3a" stroke-width="0.9" fill="none"/>
<path d="M462.4 195.0V372.5M569.4 195.0V372.5" stroke="#000" stroke-width="1.0" fill="none"/>
<rect x="462.2" y="284.4" width="107.19999999999999" height="20.80000000000001" fill="#fff"/>
<clipPath id="pc"><rect x="462.2" y="284.4" width="107.19999999999999" height="20.80000000000001"/></clipPath>
<g clip-path="url(#pc)" fill="#fff" stroke="#000" stroke-width="0.95"><ellipse cx="461.1" cy="292.0" rx="4.5" ry="5.5" transform="rotate(18 461.1 292.0)"/><ellipse cx="451.2" cy="288.0" rx="4.6" ry="2.4" transform="rotate(-8 451.7 288.0)"/><ellipse cx="452.0" cy="295.2" rx="4.9" ry="3.2" transform="rotate(-12 451.7 295.2)"/><ellipse cx="450.2" cy="302.3" rx="3.9" ry="2.1"/><ellipse cx="460.1" cy="302.2" rx="4.2" ry="2.2"/><ellipse cx="480.0" cy="292.0" rx="4.5" ry="5.5" transform="rotate(18 480.0 292.0)"/><ellipse cx="470.1" cy="288.0" rx="4.6" ry="2.4" transform="rotate(-8 470.6 288.0)"/><ellipse cx="470.9" cy="295.2" rx="4.9" ry="3.2" transform="rotate(-12 470.6 295.2)"/><ellipse cx="469.1" cy="302.3" rx="3.9" ry="2.1"/><ellipse cx="479.0" cy="302.2" rx="4.2" ry="2.2"/><ellipse cx="498.9" cy="292.0" rx="4.5" ry="5.5" transform="rotate(18 498.9 292.0)"/><ellipse cx="488.9" cy="288.0" rx="4.6" ry="2.4" transform="rotate(-8 489.4 288.0)"/><ellipse cx="489.8" cy="295.2" rx="4.9" ry="3.2" transform="rotate(-12 489.4 295.2)"/><ellipse cx="487.9" cy="302.3" rx="3.9" ry="2.1"/><ellipse cx="497.9" cy="302.2" rx="4.2" ry="2.2"/><ellipse cx="517.8" cy="292.0" rx="4.5" ry="5.5" transform="rotate(18 517.8 292.0)"/><ellipse cx="507.8" cy="288.0" rx="4.6" ry="2.4" transform="rotate(-8 508.3 288.0)"/><ellipse cx="508.6" cy="295.2" rx="4.9" ry="3.2" transform="rotate(-12 508.3 295.2)"/><ellipse cx="506.8" cy="302.3" rx="3.9" ry="2.1"/><ellipse cx="516.8" cy="302.2" rx="4.2" ry="2.2"/><ellipse cx="536.7" cy="292.0" rx="4.5" ry="5.5" transform="rotate(18 536.7 292.0)"/><ellipse cx="526.8" cy="288.0" rx="4.6" ry="2.4" transform="rotate(-8 527.2 288.0)"/><ellipse cx="527.5" cy="295.2" rx="4.9" ry="3.2" transform="rotate(-12 527.2 295.2)"/><ellipse cx="525.8" cy="302.3" rx="3.9" ry="2.1"/><ellipse cx="535.7" cy="302.2" rx="4.2" ry="2.2"/><ellipse cx="555.6" cy="292.0" rx="4.5" ry="5.5" transform="rotate(18 555.6 292.0)"/><ellipse cx="545.6" cy="288.0" rx="4.6" ry="2.4" transform="rotate(-8 546.1 288.0)"/><ellipse cx="546.4" cy="295.2" rx="4.9" ry="3.2" transform="rotate(-12 546.1 295.2)"/><ellipse cx="544.6" cy="302.3" rx="3.9" ry="2.1"/><ellipse cx="554.6" cy="302.2" rx="4.2" ry="2.2"/><ellipse cx="574.5" cy="292.0" rx="4.5" ry="5.5" transform="rotate(18 574.5 292.0)"/><ellipse cx="564.5" cy="288.0" rx="4.6" ry="2.4" transform="rotate(-8 565.0 288.0)"/><ellipse cx="565.3" cy="295.2" rx="4.9" ry="3.2" transform="rotate(-12 565.0 295.2)"/><ellipse cx="563.5" cy="302.3" rx="3.9" ry="2.1"/><ellipse cx="573.5" cy="302.2" rx="4.2" ry="2.2"/></g>
<path d="M462.2 284.4H569.4" stroke="#000" stroke-width="1.6"/>
<path d="M462.2 305.2H569.4" stroke="#000" stroke-width="1.3"/>
<g fill="none" stroke="#000">
<path d="M463.7 136.1V61.5M569 61.5V136.1H535V114.1M498.6 136.1H463.7M481.7 114.1H552.5" stroke-width="1.4" stroke-linecap="square"/>
<path d="M499 114.1V136.7" stroke-width="1.0"/>
<path d="M463.2 61.5H569.5" stroke-width="1.1"/>
<path d="M463.6 70.4H569M481.7 70.4V114.1M552.5 70.4V114.1M497.2 114.1V136.2" stroke-width="0.7" stroke="#333"/>
<path d="M508.6 114.1V206M524.3 114.1V206" stroke-width="1.3"/>
<path d="M508.6 205V209C508.6 218 505 222.5 498 223.4H489.6V240.6" stroke-width="1.05"/>
<path d="M524.3 205V209C524.3 218 528 222.5 535 223.3H544.4V238" stroke-width="0.8"/>
<path d="M510 206V209C510 219 506 224 498.5 224.6H491.2V240M523 206V209C523 219 527 224.6 534.5 225.4H542.6V238" stroke-width="0.6"/>
<path d="M498.5 224.6V240.6M500.6 223.4V240.6M534 225.4V239.4M531.8 224V239.4" stroke-width="0.8"/>
<path d="M515.7 236.3V284.4" stroke-width="0.6" stroke="#333"/>
<path d="M488.2 242C487.8 238.6 485.6 237.8 484.5 239.6C483.4 241.6 482.6 243 481.9 244.2C480.8 247 480 249 478.5 250.8C477 252.6 475 253.6 472.4 255.4" stroke="#000" stroke-width="2.5" stroke-linecap="butt"/>
<path d="M488.2 242C487.8 238.6 485.6 237.8 484.5 239.6C483.4 241.6 482.6 243 481.9 244.2C480.8 247 480 249 478.5 250.8C477 252.6 475 253.6 472.4 255.4" stroke="#fff" stroke-width="1.35" stroke-linecap="butt"/>
<path d="M498 242C497.6 238.8 495.9 238.2 495.2 240C494.2 243 493.8 245.5 493.2 247.5C492.6 250 491.5 252 488 254.3C485 256 480 258 475 259.6L472.4 260.9" stroke="#000" stroke-width="2.5" stroke-linecap="butt"/>
<path d="M498 242C497.6 238.8 495.9 238.2 495.2 240C494.2 243 493.8 245.5 493.2 247.5C492.6 250 491.5 252 488 254.3C485 256 480 258 475 259.6L472.4 260.9" stroke="#fff" stroke-width="1.35" stroke-linecap="butt"/>
<path d="M535.6 242C535.9 238.6 538 238 538.8 240C539.3 241.5 539.2 243 539.2 245V251C539.2 254.5 540.5 256.5 542.6 258C544.5 259.3 547.5 260.2 551 261.4" stroke="#000" stroke-width="2.5" stroke-linecap="butt"/>
<path d="M535.6 242C535.9 238.6 538 238 538.8 240C539.3 241.5 539.2 243 539.2 245V251C539.2 254.5 540.5 256.5 542.6 258C544.5 259.3 547.5 260.2 551 261.4" stroke="#fff" stroke-width="1.35" stroke-linecap="butt"/>
<path d="M546.8 240.5C547.2 237.8 549 237.6 549.3 239.5V249C549.3 251 549.8 252 551 253.2" stroke="#000" stroke-width="2.5" stroke-linecap="butt"/>
<path d="M546.8 240.5C547.2 237.8 549 237.6 549.3 239.5V249C549.3 251 549.8 252 551 253.2" stroke="#fff" stroke-width="1.35" stroke-linecap="butt"/>
<rect x="486.7" y="240.6" width="4.6" height="7.9" rx="0.8" fill="#f2f2f2" stroke-width="0.8"/>
<path d="M487.3 242.2H490.7M487.3 243.8H490.7M487.3 245.4H490.7M487.3 247.0H490.7M489.0 241.4V247.7" stroke-width="0.5" stroke="#444"/>
<rect x="497.1" y="240.6" width="4.8" height="8.2" rx="0.8" fill="#f2f2f2" stroke-width="0.8"/>
<path d="M497.7 242.2H501.3M497.7 243.8H501.3M497.7 245.4H501.3M497.7 247.0H501.3M497.7 248.6H501.3M499.5 241.4V248.0" stroke-width="0.5" stroke="#444"/>
<rect x="531.1" y="239.4" width="5.1" height="9.0" rx="0.8" fill="#f2f2f2" stroke-width="0.8"/>
<path d="M531.7 241.0H535.6M531.7 242.6H535.6M531.7 244.2H535.6M531.7 245.8H535.6M531.7 247.4H535.6M533.7 240.2V247.6" stroke-width="0.5" stroke="#444"/>
<rect x="542.1" y="237.6" width="5.6" height="10.6" rx="0.8" fill="#f2f2f2" stroke-width="0.8"/>
<path d="M542.7 239.2H547.1M542.7 240.8H547.1M542.7 242.4H547.1M542.7 244.0H547.1M542.7 245.6H547.1M542.7 247.2H547.1M544.9 238.4V247.4" stroke-width="0.5" stroke="#444"/>
</g>
<g fill="none" stroke="#88ce58" stroke-width="0.85">
<path d="M405 252.6H472.4M405 262.4H472.4"/><path d="M405 252.6Q403.2 252.6 403.2 254.5V260.5Q403.2 262.4 405 262.4"/><ellipse cx="405.4" cy="255.6" rx="2.1" ry="3" stroke="#4db32e"/><ellipse cx="471.2" cy="257.4" rx="1.6" ry="4.8"/>
<path d="M551.5 252.6H616Q617.9 252.6 617.9 254.5V260.6Q617.9 262.5 616 262.5H551.5"/><ellipse cx="616.5" cy="257" rx="2.2" ry="2.4" stroke="#4db32e"/><path d="M551.8 252.6C550.6 255 550.6 260 551.8 262.5"/>
</g>
<path d="M288.2 72.5H403.5" stroke="#707070" stroke-width="1" fill="none"/>
<path d="M403.5 72.5L475.7 101.9" stroke="#2a2a2a" stroke-width="0.9" fill="none"/>
<polygon points="475.7,101.9 467.2,100.1 468.4,97.3" fill="#000"/>
<path d="M288.2 142.5H404.5" stroke="#707070" stroke-width="1" fill="none"/>
<path d="M404.5 142.5L507.9 172.7" stroke="#2a2a2a" stroke-width="0.9" fill="none"/>
<polygon points="507.9,172.7 499.3,171.8 500.2,168.8" fill="#000"/>
<path d="M288.2 170.5H404.9" stroke="#707070" stroke-width="1" fill="none"/>
<path d="M404.9 170.5L448.6 200.8" stroke="#2a2a2a" stroke-width="0.9" fill="none"/>
<polygon points="448.6,200.8 440.7,197.2 442.5,194.7" fill="#000"/>
<path d="M288.2 208.5H404.5" stroke="#1a1a1a" stroke-width="1" fill="none"/>
<path d="M404.5 208.5L444.3 236.7" stroke="#2a2a2a" stroke-width="0.9" fill="none"/>
<polygon points="444.3,236.7 436.5,233.1 438.3,230.5" fill="#000"/>
<path d="M288.2 276.5H404.9" stroke="#707070" stroke-width="1" fill="none"/>
<path d="M404.9 276.5L431.8 262.9" stroke="#2a2a2a" stroke-width="0.9" fill="none"/>
<polygon points="431.8,262.9 424.9,268.1 423.5,265.4" fill="#000"/>
<path d="M288.2 319.5H407.1" stroke="#707070" stroke-width="1" fill="none"/>
<path d="M407.1 319.5L474 301" stroke="#2a2a2a" stroke-width="0.9" fill="none"/>
<polygon points="474.0,301.0 466.2,304.8 465.4,301.8" fill="#000"/>
<path d="M288.2 364.5H405.7" stroke="#707070" stroke-width="1" fill="none"/>
<path d="M405.7 364.5L480.9 347.1" stroke="#2a2a2a" stroke-width="0.9" fill="none"/>
<polygon points="480.9,347.1 473.0,350.5 472.3,347.5" fill="#000"/>
<path d="M630.4 211L549.5 239.8M630.4 226.4L549.5 240.4M595 231V234.5" stroke="#111" stroke-width="0.9" fill="none"/>
<polygon points="549.5,239.9 553.8,237.1 554.6,239.3" fill="#000"/>
<path d="M630.4 211V187.5A6 6 0 0 1 636.4 181.5H707.5A6 6 0 0 1 713.5 187.5V251.4A6 6 0 0 1 707.5 257.4H636.4A6 6 0 0 1 630.4 251.4V226.4" stroke="#000" stroke-width="1.1" fill="none"/>
<path d="M649.6 209.9V236.3Q649.6 240.3 653.6 240.3H666Q670 240.3 670 236.3V209.9Z" fill="#cfeaf3" stroke="none"/>
<path d="M652.9 219.5h0.5M651.5 226.3h0.5M652.2 217.9h0.5M664.9 219.3h0.5M661.2 235.5h0.5M662.3 234.2h0.5M667.7 217.9h0.5M653.9 239.1h0.5M667.5 220.1h0.5M667.6 213.4h0.5M654.7 235.4h0.5M652.4 235.4h0.5M654.6 232.8h0.5M652.9 225.2h0.5M661.1 226.8h0.5M666.5 212.0h0.5M663.6 235.1h0.5M660.2 217.7h0.5M665.3 223.2h0.5M655.3 232.9h0.5M664.6 234.3h0.5M659.6 211.4h0.5M650.9 226.6h0.5M651.2 228.6h0.5M653.0 233.0h0.5M650.9 230.5h0.5M654.6 239.3h0.5M659.3 225.6h0.5M666.2 219.0h0.5M668.5 219.3h0.5M651.2 218.9h0.5M657.3 227.9h0.5M651.7 236.6h0.5M664.9 232.1h0.5M668.8 212.5h0.5M663.2 235.2h0.5M653.8 222.7h0.5M654.2 237.2h0.5M659.2 234.5h0.5M655.2 228.0h0.5M664.3 220.7h0.5M655.5 213.4h0.5M662.1 222.6h0.5M654.2 220.1h0.5M656.4 214.5h0.5M661.5 215.4h0.5M654.5 221.2h0.5M668.8 231.1h0.5M654.4 234.9h0.5M667.9 220.3h0.5M665.3 228.8h0.5M660.7 236.6h0.5M662.9 229.3h0.5M667.8 223.9h0.5M652.4 211.2h0.5M663.9 224.3h0.5M666.7 238.5h0.5M655.2 216.6h0.5M661.1 211.6h0.5M652.4 213.1h0.5M656.0 223.5h0.5M654.1 230.5h0.5M664.5 234.6h0.5M660.6 232.3h0.5M665.2 231.6h0.5M656.4 227.3h0.5M665.8 218.0h0.5M657.1 211.3h0.5M661.6 214.2h0.5M658.7 216.3h0.5M652.6 236.1h0.5M656.6 238.1h0.5M664.2 227.6h0.5M659.5 229.4h0.5M665.5 216.4h0.5M660.5 218.6h0.5M654.0 217.2h0.5M665.1 237.4h0.5M658.5 215.9h0.5M653.8 219.7h0.5M657.4 236.0h0.5M660.2 224.9h0.5M662.1 216.0h0.5M657.4 223.5h0.5M651.7 219.7h0.5M661.1 228.1h0.5M655.4 213.0h0.5M661.1 215.4h0.5M650.6 238.3h0.5M664.0 237.5h0.5M656.4 232.8h0.5M666.3 228.8h0.5M651.1 218.8h0.5M657.4 223.4h0.5M661.1 216.3h0.5M654.6 211.6h0.5M657.9 214.3h0.5M654.8 211.5h0.5M666.1 217.4h0.5M659.9 227.4h0.5M651.3 226.5h0.5M665.3 217.8h0.5M662.2 231.5h0.5M660.9 221.1h0.5M660.0 229.9h0.5M658.6 231.8h0.5M664.4 232.3h0.5M658.5 215.1h0.5M653.7 219.4h0.5M660.9 212.7h0.5M656.2 215.2h0.5M660.4 216.7h0.5M665.7 212.8h0.5M657.1 232.1h0.5M665.9 222.1h0.5M667.9 235.9h0.5M660.9 220.3h0.5M654.1 230.5h0.5M651.6 229.4h0.5M654.7 216.3h0.5M661.9 222.1h0.5M651.5 215.2h0.5M665.1 222.0h0.5M664.9 228.5h0.5M650.6 220.7h0.5M661.6 217.9h0.5M653.0 239.3h0.5M656.5 229.6h0.5M658.7 239.0h0.5M654.7 211.9h0.5M662.5 230.6h0.5M666.0 214.1h0.5M653.8 224.4h0.5M655.7 214.7h0.5M653.1 212.2h0.5M658.4 214.8h0.5M651.0 213.7h0.5M663.5 229.3h0.5M656.9 233.8h0.5M651.3 222.8h0.5" stroke="#5aa7c4" stroke-width="0.8" stroke-linecap="round" fill="none"/>
<path d="M649.6 209.9V236.3Q649.6 240.3 653.6 240.3H666Q670 240.3 670 236.3V209.9Z" fill="none" stroke="#000" stroke-width="1.1"/>
<path d="M660.5 225.6V190.8H664.4V225.6Z" fill="#fff" stroke="#000" stroke-width="0.9"/>
<polygon points="662.45,188 660.5,191.2 664.4,191.2" fill="#000"/>
<path d="M642 202H652.8Q655.6 202 655.6 204.8V225.3H658.6V206.5Q658.6 205 657 205H642Z" fill="#fff" stroke="none"/>
<path d="M655.6 225.3V204.8Q655.6 202 652.8 202H642M658.6 225.3V206.5Q658.6 205 657 205H642" fill="none" stroke="#000" stroke-width="0.9"/>
<path d="M655.6 225.3H658.6" stroke="#000" stroke-width="0.9"/>
<polygon points="639.2,203.5 643,201.2 643,205.8" fill="#000"/>
<path d="M657.6 225.8L660.3 231.6L661.2 237M662.6 225.8L660.3 231.6M660.2 234.6L662 236.4" stroke="#e8231f" stroke-width="0.9" fill="none"/>
<path d="M670.6 221L689.2 215.3H707.4M665.7 232.4L689.2 226.4H710.4M660.3 235L688.2 241.4H709.8" stroke="#68bd3a" stroke-width="0.9" fill="none"/>
<g font-size="7.2" fill="#000" font-weight="900">
<text x="689.5" y="214.4" textLength="17.6" lengthAdjust="spacingAndGlyphs">防水端子</text>
<text x="688.6" y="225.5" textLength="22.8" lengthAdjust="spacingAndGlyphs">白色防水胶</text>
<text x="692" y="240.3" textLength="18.2" lengthAdjust="spacingAndGlyphs">剥除外皮</text>
</g>
<g font-size="16.5" fill="#000" font-weight="400">
<text x="319" y="62.6" textLength="48" lengthAdjust="spacingAndGlyphs">地埋灯具</text>
<text x="316" y="135.9" textLength="59" lengthAdjust="spacingAndGlyphs">灯具电源线</text>
<text x="320.6" y="164.6" textLength="35.5" lengthAdjust="spacingAndGlyphs">大理石</text>
<text x="321.3" y="202.4" textLength="58.6" lengthAdjust="spacingAndGlyphs">混凝土基座</text>
<text x="327.8" y="270.3" textLength="34.6" lengthAdjust="spacingAndGlyphs">预埋管</text>
<text x="329.8" y="312.6" textLength="35" lengthAdjust="spacingAndGlyphs">鹅卵石</text>
<text x="333.6" y="360.3" textLength="23.8" lengthAdjust="spacingAndGlyphs">沙土</text>
</g>
</svg></body></html>
